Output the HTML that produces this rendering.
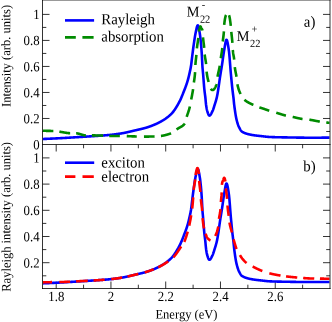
<!DOCTYPE html><html><head><meta charset="utf-8"><title>fig</title><style>html,body{margin:0;padding:0;background:#fff;overflow:hidden}svg{display:block;will-change:transform}text{font-family:"Liberation Serif",serif;fill:#000}</style></head><body>
<svg width="332" height="322" viewBox="0 0 332 322">
<rect width="332" height="322" fill="#fff"/>
<path d="M42.50 131.49h3.80M330.00 131.49h-3.80M42.50 275.80h3.80M330.00 275.80h-3.80M42.50 118.48h7.00M330.00 118.48h-7.00M42.50 262.70h7.00M330.00 262.70h-7.00M42.50 105.47h3.80M330.00 105.47h-3.80M42.50 249.60h3.80M330.00 249.60h-3.80M42.50 92.46h7.00M330.00 92.46h-7.00M42.50 236.50h7.00M330.00 236.50h-7.00M42.50 79.45h3.80M330.00 79.45h-3.80M42.50 223.40h3.80M330.00 223.40h-3.80M42.50 66.44h7.00M330.00 66.44h-7.00M42.50 210.30h7.00M330.00 210.30h-7.00M42.50 53.43h3.80M330.00 53.43h-3.80M42.50 197.20h3.80M330.00 197.20h-3.80M42.50 40.42h7.00M330.00 40.42h-7.00M42.50 184.10h7.00M330.00 184.10h-7.00M42.50 27.41h3.80M330.00 27.41h-3.80M42.50 171.00h3.80M330.00 171.00h-3.80M42.50 14.40h7.00M330.00 14.40h-7.00M42.50 157.90h7.00M330.00 157.90h-7.00M56.19 144.50v7.00M56.19 288.50v-7.00M83.57 144.50v3.80M83.57 288.50v-3.80M110.95 144.50v7.00M110.95 288.50v-7.00M138.33 144.50v3.80M138.33 288.50v-3.80M165.71 144.50v7.00M165.71 288.50v-7.00M193.10 144.50v3.80M193.10 288.50v-3.80M220.48 144.50v7.00M220.48 288.50v-7.00M247.86 144.50v3.80M247.86 288.50v-3.80M275.24 144.50v7.00M275.24 288.50v-7.00M302.62 144.50v3.80M302.62 288.50v-3.80" stroke="#000" stroke-width="0.8" fill="none"/>
<clipPath id="ca"><rect x="43" y="0" width="286.5" height="144.5"/></clipPath><clipPath id="cb"><rect x="43" y="144.5" width="286.5" height="144"/></clipPath>
<g fill="none" stroke-width="2.6" stroke-linejoin="round">
<path clip-path="url(#ca)" d="M42.50 139.00L42.70 138.99L42.90 138.98L43.10 138.98L43.30 138.97L43.50 138.96L43.70 138.95L43.90 138.94L44.10 138.94L44.30 138.93L44.50 138.92L44.70 138.91L44.90 138.90L45.10 138.90L45.30 138.89L45.50 138.88L45.70 138.87L45.90 138.86L46.10 138.85L46.30 138.85L46.50 138.84L46.70 138.83L46.90 138.82L47.10 138.81L47.30 138.80L47.50 138.79L47.70 138.79L47.90 138.78L48.10 138.77L48.30 138.76L48.50 138.75L48.70 138.74L48.90 138.73L49.10 138.72L49.30 138.72L49.50 138.71L49.70 138.70L49.90 138.69L50.10 138.68L50.30 138.67L50.50 138.66L50.70 138.65L50.90 138.64L51.10 138.63L51.30 138.63L51.50 138.62L51.70 138.61L51.90 138.60L52.10 138.59L52.30 138.58L52.50 138.57L52.70 138.56L52.90 138.55L53.10 138.54L53.30 138.53L53.50 138.52L53.70 138.51L53.90 138.50L54.10 138.49L54.30 138.48L54.50 138.47L54.70 138.47L54.90 138.46L55.10 138.45L55.30 138.44L55.50 138.43L55.70 138.42L55.90 138.41L56.10 138.40L56.30 138.39L56.50 138.38L56.70 138.37L56.90 138.36L57.10 138.35L57.30 138.34L57.50 138.33L57.70 138.32L57.90 138.31L58.10 138.30L58.30 138.29L58.50 138.28L58.70 138.27L58.90 138.26L59.10 138.25L59.30 138.24L59.50 138.23L59.70 138.22L59.90 138.21L60.10 138.19L60.30 138.18L60.50 138.17L60.70 138.16L60.90 138.15L61.10 138.14L61.30 138.13L61.50 138.12L61.70 138.11L61.90 138.10L62.10 138.09L62.30 138.08L62.50 138.07L62.70 138.06L62.90 138.04L63.10 138.03L63.30 138.02L63.50 138.01L63.70 138.00L63.90 137.99L64.10 137.98L64.30 137.97L64.50 137.95L64.70 137.94L64.90 137.93L65.10 137.92L65.30 137.91L65.50 137.90L65.70 137.88L65.90 137.87L66.10 137.86L66.30 137.85L66.50 137.84L66.70 137.83L66.90 137.81L67.10 137.80L67.30 137.79L67.50 137.78L67.70 137.77L67.90 137.75L68.10 137.74L68.30 137.73L68.50 137.72L68.70 137.71L68.90 137.69L69.10 137.68L69.30 137.67L69.50 137.66L69.70 137.65L69.90 137.63L70.10 137.62L70.30 137.61L70.50 137.60L70.70 137.58L70.90 137.57L71.10 137.56L71.30 137.55L71.50 137.53L71.70 137.52L71.90 137.51L72.10 137.50L72.30 137.48L72.50 137.47L72.70 137.46L72.90 137.45L73.10 137.43L73.30 137.42L73.50 137.41L73.70 137.40L73.90 137.38L74.10 137.37L74.30 137.36L74.50 137.35L74.70 137.33L74.90 137.32L75.10 137.31L75.30 137.30L75.50 137.28L75.70 137.27L75.90 137.26L76.10 137.25L76.30 137.23L76.50 137.22L76.70 137.21L76.90 137.19L77.10 137.18L77.30 137.17L77.50 137.16L77.70 137.14L77.90 137.13L78.10 137.12L78.30 137.11L78.50 137.09L78.70 137.08L78.90 137.07L79.10 137.06L79.30 137.04L79.50 137.03L79.70 137.02L79.90 137.01L80.10 136.99L80.30 136.98L80.50 136.97L80.70 136.96L80.90 136.94L81.10 136.93L81.30 136.92L81.50 136.91L81.70 136.89L81.90 136.88L82.10 136.87L82.30 136.86L82.50 136.84L82.70 136.83L82.90 136.82L83.10 136.81L83.30 136.79L83.50 136.78L83.70 136.77L83.90 136.76L84.10 136.75L84.30 136.73L84.50 136.72L84.70 136.71L84.90 136.70L85.10 136.68L85.30 136.67L85.50 136.66L85.70 136.65L85.90 136.63L86.10 136.62L86.30 136.61L86.50 136.60L86.70 136.58L86.90 136.57L87.10 136.56L87.30 136.55L87.50 136.53L87.70 136.52L87.90 136.51L88.10 136.50L88.30 136.48L88.50 136.47L88.70 136.46L88.90 136.45L89.10 136.43L89.30 136.42L89.50 136.41L89.70 136.39L89.90 136.38L90.10 136.37L90.30 136.36L90.50 136.34L90.70 136.33L90.90 136.32L91.10 136.30L91.30 136.29L91.50 136.28L91.70 136.27L91.90 136.25L92.10 136.24L92.30 136.23L92.50 136.21L92.70 136.20L92.90 136.19L93.10 136.17L93.30 136.16L93.50 136.15L93.70 136.14L93.90 136.12L94.10 136.11L94.30 136.10L94.50 136.08L94.70 136.07L94.90 136.06L95.10 136.04L95.30 136.03L95.50 136.01L95.70 136.00L95.90 135.99L96.10 135.97L96.30 135.96L96.50 135.95L96.70 135.93L96.90 135.92L97.10 135.91L97.30 135.89L97.50 135.88L97.70 135.86L97.90 135.85L98.10 135.84L98.30 135.82L98.50 135.81L98.70 135.79L98.90 135.78L99.10 135.76L99.30 135.75L99.50 135.74L99.70 135.72L99.90 135.71L100.10 135.69L100.30 135.68L100.50 135.66L100.70 135.65L100.90 135.63L101.10 135.62L101.30 135.61L101.50 135.59L101.70 135.58L101.90 135.56L102.10 135.55L102.30 135.53L102.50 135.52L102.70 135.50L102.90 135.49L103.10 135.48L103.30 135.46L103.50 135.45L103.70 135.43L103.90 135.42L104.10 135.40L104.30 135.39L104.50 135.37L104.70 135.36L104.90 135.34L105.10 135.33L105.30 135.31L105.50 135.29L105.70 135.28L105.90 135.26L106.10 135.25L106.30 135.23L106.50 135.21L106.70 135.20L106.90 135.18L107.10 135.16L107.30 135.15L107.50 135.13L107.70 135.11L107.90 135.10L108.10 135.08L108.30 135.06L108.50 135.04L108.70 135.02L108.90 135.01L109.10 134.99L109.30 134.97L109.50 134.95L109.70 134.93L109.90 134.91L110.10 134.89L110.30 134.87L110.50 134.85L110.70 134.83L110.90 134.81L111.10 134.79L111.30 134.77L111.50 134.74L111.70 134.72L111.90 134.70L112.10 134.68L112.30 134.66L112.50 134.63L112.70 134.61L112.90 134.59L113.10 134.56L113.30 134.54L113.50 134.52L113.70 134.49L113.90 134.47L114.10 134.44L114.30 134.42L114.50 134.39L114.70 134.37L114.90 134.34L115.10 134.32L115.30 134.29L115.50 134.27L115.70 134.24L115.90 134.21L116.10 134.19L116.30 134.16L116.50 134.13L116.70 134.11L116.90 134.08L117.10 134.05L117.30 134.02L117.50 133.99L117.70 133.97L117.90 133.94L118.10 133.91L118.30 133.88L118.50 133.85L118.70 133.82L118.90 133.79L119.10 133.76L119.30 133.73L119.50 133.70L119.70 133.67L119.90 133.64L120.10 133.61L120.30 133.57L120.50 133.54L120.70 133.51L120.90 133.48L121.10 133.45L121.30 133.42L121.50 133.38L121.70 133.35L121.90 133.32L122.10 133.28L122.30 133.25L122.50 133.21L122.70 133.18L122.90 133.14L123.10 133.11L123.30 133.07L123.50 133.03L123.70 133.00L123.90 132.96L124.10 132.92L124.30 132.88L124.50 132.84L124.70 132.80L124.90 132.76L125.10 132.72L125.30 132.67L125.50 132.63L125.70 132.59L125.90 132.55L126.10 132.50L126.30 132.46L126.50 132.41L126.70 132.37L126.90 132.33L127.10 132.28L127.30 132.24L127.50 132.19L127.70 132.14L127.90 132.10L128.10 132.05L128.30 132.01L128.50 131.96L128.70 131.91L128.90 131.86L129.10 131.82L129.30 131.77L129.50 131.72L129.70 131.67L129.90 131.63L130.10 131.58L130.30 131.53L130.50 131.48L130.70 131.43L130.90 131.39L131.10 131.34L131.30 131.29L131.50 131.24L131.70 131.19L131.90 131.15L132.10 131.10L132.30 131.05L132.50 131.00L132.70 130.95L132.90 130.91L133.10 130.86L133.30 130.81L133.50 130.76L133.70 130.72L133.90 130.67L134.10 130.62L134.30 130.58L134.50 130.53L134.70 130.48L134.90 130.44L135.10 130.39L135.30 130.35L135.50 130.30L135.70 130.26L135.90 130.21L136.10 130.16L136.30 130.12L136.50 130.07L136.70 130.03L136.90 129.98L137.10 129.94L137.30 129.89L137.50 129.85L137.70 129.80L137.90 129.76L138.10 129.71L138.30 129.67L138.50 129.62L138.70 129.58L138.90 129.53L139.10 129.49L139.30 129.44L139.50 129.39L139.70 129.35L139.90 129.30L140.10 129.25L140.30 129.21L140.50 129.16L140.70 129.11L140.90 129.07L141.10 129.02L141.30 128.97L141.50 128.92L141.70 128.87L141.90 128.82L142.10 128.77L142.30 128.72L142.50 128.67L142.70 128.62L142.90 128.57L143.10 128.52L143.30 128.47L143.50 128.42L143.70 128.36L143.90 128.31L144.10 128.26L144.30 128.20L144.50 128.15L144.70 128.09L144.90 128.04L145.10 127.98L145.30 127.92L145.50 127.87L145.70 127.81L145.90 127.75L146.10 127.69L146.30 127.63L146.50 127.57L146.70 127.51L146.90 127.45L147.10 127.38L147.30 127.32L147.50 127.26L147.70 127.19L147.90 127.13L148.10 127.06L148.30 127.00L148.50 126.93L148.70 126.87L148.90 126.80L149.10 126.73L149.30 126.66L149.50 126.59L149.70 126.52L149.90 126.45L150.10 126.38L150.30 126.31L150.50 126.24L150.70 126.17L150.90 126.09L151.10 126.02L151.30 125.94L151.50 125.87L151.70 125.79L151.90 125.72L152.10 125.64L152.30 125.56L152.50 125.48L152.70 125.40L152.90 125.32L153.10 125.24L153.30 125.16L153.50 125.08L153.70 125.00L153.90 124.91L154.10 124.83L154.30 124.75L154.50 124.66L154.70 124.57L154.90 124.49L155.10 124.40L155.30 124.31L155.50 124.22L155.70 124.13L155.90 124.04L156.10 123.95L156.30 123.86L156.50 123.77L156.70 123.67L156.90 123.58L157.10 123.49L157.30 123.39L157.50 123.29L157.70 123.20L157.90 123.10L158.10 123.00L158.30 122.90L158.50 122.80L158.70 122.70L158.90 122.60L159.10 122.49L159.30 122.39L159.50 122.29L159.70 122.18L159.90 122.08L160.10 121.97L160.30 121.86L160.50 121.76L160.70 121.65L160.90 121.54L161.10 121.43L161.30 121.32L161.50 121.20L161.70 121.09L161.90 120.97L162.10 120.86L162.30 120.74L162.50 120.62L162.70 120.50L162.90 120.38L163.10 120.26L163.30 120.14L163.50 120.02L163.70 119.89L163.90 119.76L164.10 119.64L164.30 119.51L164.50 119.37L164.70 119.24L164.90 119.11L165.10 118.97L165.30 118.84L165.50 118.70L165.70 118.56L165.90 118.42L166.10 118.27L166.30 118.13L166.50 117.98L166.70 117.83L166.90 117.68L167.10 117.53L167.30 117.38L167.50 117.23L167.70 117.07L167.90 116.91L168.10 116.75L168.30 116.59L168.50 116.42L168.70 116.26L168.90 116.09L169.10 115.92L169.30 115.74L169.50 115.57L169.70 115.39L169.90 115.21L170.10 115.03L170.30 114.85L170.50 114.67L170.70 114.48L170.90 114.29L171.10 114.10L171.30 113.90L171.50 113.70L171.70 113.49L171.90 113.28L172.10 113.06L172.30 112.84L172.50 112.61L172.70 112.37L172.90 112.13L173.10 111.88L173.30 111.62L173.50 111.36L173.70 111.10L173.90 110.83L174.10 110.56L174.30 110.28L174.50 109.99L174.70 109.70L174.90 109.41L175.10 109.11L175.30 108.81L175.50 108.50L175.70 108.19L175.90 107.87L176.10 107.55L176.30 107.23L176.50 106.90L176.70 106.57L176.90 106.24L177.10 105.90L177.30 105.56L177.50 105.22L177.70 104.87L177.90 104.52L178.10 104.16L178.30 103.81L178.50 103.45L178.70 103.09L178.90 102.72L179.10 102.35L179.30 101.99L179.50 101.61L179.70 101.23L179.90 100.83L180.10 100.43L180.30 100.01L180.50 99.58L180.70 99.14L180.90 98.69L181.10 98.24L181.30 97.77L181.50 97.30L181.70 96.82L181.90 96.34L182.10 95.85L182.30 95.36L182.50 94.86L182.70 94.36L182.90 93.85L183.10 93.34L183.30 92.83L183.50 92.32L183.70 91.81L183.90 91.30L184.10 90.79L184.30 90.28L184.50 89.77L184.70 89.25L184.90 88.73L185.10 88.21L185.30 87.69L185.50 87.15L185.70 86.61L185.90 86.06L186.10 85.50L186.30 84.93L186.50 84.35L186.70 83.76L186.90 83.15L187.10 82.53L187.30 81.89L187.50 81.23L187.70 80.56L187.90 79.85L188.10 79.12L188.30 78.36L188.50 77.57L188.70 76.77L188.90 75.94L189.10 75.09L189.30 74.22L189.50 73.34L189.70 72.45L189.90 71.55L190.10 70.65L190.30 69.73L190.50 68.76L190.70 67.73L190.90 66.60L191.10 65.35L191.30 63.87L191.50 62.23L191.70 60.51L191.90 58.82L192.10 57.20L192.30 55.57L192.50 53.95L192.70 52.34L192.90 50.77L193.10 49.24L193.30 47.75L193.50 46.29L193.70 44.86L193.90 43.47L194.10 42.13L194.30 40.78L194.50 39.44L194.70 38.12L194.90 36.84L195.10 35.63L195.30 34.50L195.50 33.47L195.70 32.54L195.90 31.60L196.10 30.64L196.30 29.69L196.50 28.77L196.70 27.91L196.90 27.13L197.10 26.46L197.30 25.92L197.50 25.53L197.70 25.33L197.90 25.33L198.10 25.59L198.30 26.08L198.50 26.76L198.70 27.60L198.90 28.56L199.10 29.62L199.30 30.73L199.50 31.87L199.70 33.00L199.90 34.22L200.10 35.65L200.30 37.24L200.50 38.99L200.70 40.85L200.90 42.80L201.10 44.94L201.30 47.35L201.50 50.00L201.70 52.95L201.90 56.25L202.10 59.97L202.30 64.25L202.50 67.40L202.70 69.75L202.90 71.82L203.10 74.00L203.30 76.44L203.50 79.01L203.70 81.61L203.90 84.17L204.10 86.60L204.30 88.81L204.50 90.71L204.70 92.34L204.90 93.84L205.10 95.34L205.30 97.00L205.50 98.99L205.70 101.18L205.90 103.29L206.10 105.00L206.30 106.37L206.50 107.63L206.70 108.75L206.90 109.74L207.10 110.56L207.30 111.22L207.50 111.86L207.70 112.48L207.90 113.07L208.10 113.62L208.30 114.13L208.50 114.58L208.70 114.96L208.90 115.26L209.10 115.48L209.30 115.59L209.50 115.59L209.70 115.54L209.90 115.42L210.10 115.26L210.30 115.06L210.50 114.82L210.70 114.53L210.90 114.22L211.10 113.88L211.30 113.52L211.50 113.14L211.70 112.74L211.90 112.34L212.10 111.92L212.30 111.51L212.50 111.10L212.70 110.69L212.90 110.23L213.10 109.71L213.30 109.15L213.50 108.55L213.70 107.93L213.90 107.28L214.10 106.63L214.30 105.97L214.50 105.32L214.70 104.68L214.90 104.05L215.10 103.43L215.30 102.80L215.50 102.17L215.70 101.52L215.90 100.85L216.10 100.15L216.30 99.43L216.50 98.66L216.70 97.86L216.90 97.00L217.10 96.07L217.30 95.06L217.50 93.98L217.70 92.82L217.90 91.61L218.10 90.34L218.30 89.03L218.50 87.68L218.70 86.31L218.90 84.91L219.10 83.51L219.30 82.09L219.50 80.69L219.70 79.29L219.90 77.92L220.10 76.57L220.30 75.27L220.50 74.00L220.70 72.77L220.90 71.57L221.10 70.38L221.30 69.19L221.50 67.99L221.70 66.77L221.90 65.53L222.10 64.25L222.30 62.91L222.50 61.51L222.70 60.07L222.90 58.62L223.10 57.17L223.30 55.74L223.50 54.34L223.70 53.00L223.90 51.73L224.10 50.55L224.30 49.45L224.50 48.31L224.70 47.12L224.90 45.92L225.10 44.75L225.30 43.62L225.50 42.59L225.70 41.67L225.90 40.90L226.10 40.31L226.30 39.93L226.50 39.80L226.70 39.92L226.90 40.25L227.10 40.78L227.30 41.48L227.50 42.33L227.70 43.31L227.90 44.39L228.10 45.56L228.30 46.79L228.50 48.07L228.70 49.36L228.90 50.69L229.10 52.36L229.30 54.34L229.50 56.57L229.70 58.99L229.90 61.54L230.10 64.16L230.30 66.77L230.50 69.33L230.70 71.76L230.90 74.00L231.10 76.12L231.30 78.23L231.50 80.32L231.70 82.36L231.90 84.37L232.10 86.31L232.30 88.20L232.50 90.00L232.70 91.68L232.90 93.23L233.10 94.75L233.30 96.31L233.50 98.00L233.70 99.95L233.90 102.06L234.10 104.04L234.30 105.69L234.50 107.23L234.70 108.73L234.90 110.17L235.10 111.55L235.30 112.88L235.50 114.14L235.70 115.34L235.90 116.46L236.10 117.51L236.30 118.49L236.50 119.38L236.70 120.20L236.90 120.98L237.10 121.72L237.30 122.43L237.50 123.10L237.70 123.74L237.90 124.34L238.10 124.92L238.30 125.46L238.50 125.97L238.70 126.44L238.90 126.89L239.10 127.30L239.30 127.70L239.50 128.08L239.70 128.46L239.90 128.83L240.10 129.19L240.30 129.53L240.50 129.86L240.70 130.17L240.90 130.46L241.10 130.73L241.30 130.98L241.50 131.20L241.70 131.40L241.90 131.56L242.10 131.70L242.30 131.82L242.50 131.94L242.70 132.05L242.90 132.16L243.10 132.27L243.30 132.37L243.50 132.47L243.70 132.57L243.90 132.66L244.10 132.76L244.30 132.85L244.50 132.93L244.70 133.02L244.90 133.10L245.10 133.18L245.30 133.26L245.50 133.33L245.70 133.40L245.90 133.47L246.10 133.54L246.30 133.61L246.50 133.67L246.70 133.74L246.90 133.80L247.10 133.86L247.30 133.91L247.50 133.97L247.70 134.02L247.90 134.08L248.10 134.13L248.30 134.18L248.50 134.22L248.70 134.27L248.90 134.32L249.10 134.36L249.30 134.41L249.50 134.45L249.70 134.49L249.90 134.53L250.10 134.58L250.30 134.62L250.50 134.65L250.70 134.69L250.90 134.73L251.10 134.77L251.30 134.81L251.50 134.84L251.70 134.88L251.90 134.92L252.10 134.95L252.30 134.99L252.50 135.02L252.70 135.06L252.90 135.09L253.10 135.12L253.30 135.16L253.50 135.19L253.70 135.22L253.90 135.25L254.10 135.28L254.30 135.31L254.50 135.34L254.70 135.36L254.90 135.39L255.10 135.42L255.30 135.44L255.50 135.47L255.70 135.50L255.90 135.52L256.10 135.55L256.30 135.57L256.50 135.60L256.70 135.62L256.90 135.64L257.10 135.67L257.30 135.69L257.50 135.71L257.70 135.73L257.90 135.76L258.10 135.78L258.30 135.80L258.50 135.82L258.70 135.84L258.90 135.87L259.10 135.89L259.30 135.91L259.50 135.93L259.70 135.95L259.90 135.97L260.10 135.99L260.30 136.02L260.50 136.04L260.70 136.06L260.90 136.08L261.10 136.10L261.30 136.12L261.50 136.14L261.70 136.17L261.90 136.19L262.10 136.21L262.30 136.23L262.50 136.26L262.70 136.28L262.90 136.30L263.10 136.33L263.30 136.35L263.50 136.37L263.70 136.40L263.90 136.42L264.10 136.45L264.30 136.47L264.50 136.49L264.70 136.52L264.90 136.54L265.10 136.57L265.30 136.59L265.50 136.61L265.70 136.63L265.90 136.66L266.10 136.68L266.30 136.70L266.50 136.72L266.70 136.74L266.90 136.76L267.10 136.78L267.30 136.80L267.50 136.82L267.70 136.84L267.90 136.86L268.10 136.88L268.30 136.89L268.50 136.91L268.70 136.92L268.90 136.94L269.10 136.95L269.30 136.96L269.50 136.98L269.70 136.99L269.90 137.00L270.10 137.00L270.30 137.01L270.50 137.02L270.70 137.03L270.90 137.04L271.10 137.05L271.30 137.05L271.50 137.06L271.70 137.07L271.90 137.08L272.10 137.08L272.30 137.09L272.50 137.10L272.70 137.10L272.90 137.11L273.10 137.12L273.30 137.12L273.50 137.13L273.70 137.14L273.90 137.14L274.10 137.15L274.30 137.16L274.50 137.16L274.70 137.17L274.90 137.17L275.10 137.18L275.30 137.18L275.50 137.19L275.70 137.20L275.90 137.20L276.10 137.21L276.30 137.21L276.50 137.22L276.70 137.22L276.90 137.23L277.10 137.23L277.30 137.24L277.50 137.24L277.70 137.25L277.90 137.25L278.10 137.26L278.30 137.26L278.50 137.26L278.70 137.27L278.90 137.27L279.10 137.28L279.30 137.28L279.50 137.29L279.70 137.29L279.90 137.29L280.10 137.30L280.30 137.30L280.50 137.30L280.70 137.31L280.90 137.31L281.10 137.32L281.30 137.32L281.50 137.32L281.70 137.33L281.90 137.33L282.10 137.33L282.30 137.34L282.50 137.34L282.70 137.35L282.90 137.35L283.10 137.35L283.30 137.36L283.50 137.36L283.70 137.36L283.90 137.37L284.10 137.37L284.30 137.37L284.50 137.38L284.70 137.38L284.90 137.38L285.10 137.39L285.30 137.39L285.50 137.39L285.70 137.40L285.90 137.40L286.10 137.40L286.30 137.41L286.50 137.41L286.70 137.41L286.90 137.42L287.10 137.42L287.30 137.42L287.50 137.43L287.70 137.43L287.90 137.43L288.10 137.44L288.30 137.44L288.50 137.45L288.70 137.45L288.90 137.45L289.10 137.46L289.30 137.46L289.50 137.46L289.70 137.47L289.90 137.47L290.10 137.47L290.30 137.48L290.50 137.48L290.70 137.48L290.90 137.49L291.10 137.49L291.30 137.49L291.50 137.50L291.70 137.50L291.90 137.50L292.10 137.51L292.30 137.51L292.50 137.51L292.70 137.52L292.90 137.52L293.10 137.52L293.30 137.53L293.50 137.53L293.70 137.53L293.90 137.54L294.10 137.54L294.30 137.54L294.50 137.55L294.70 137.55L294.90 137.55L295.10 137.56L295.30 137.56L295.50 137.56L295.70 137.57L295.90 137.57L296.10 137.57L296.30 137.58L296.50 137.58L296.70 137.58L296.90 137.59L297.10 137.59L297.30 137.59L297.50 137.59L297.70 137.60L297.90 137.60L298.10 137.60L298.30 137.61L298.50 137.61L298.70 137.61L298.90 137.61L299.10 137.62L299.30 137.62L299.50 137.62L299.70 137.63L299.90 137.63L300.10 137.63L300.30 137.63L300.50 137.64L300.70 137.64L300.90 137.64L301.10 137.64L301.30 137.65L301.50 137.65L301.70 137.65L301.90 137.65L302.10 137.65L302.30 137.66L302.50 137.66L302.70 137.66L302.90 137.66L303.10 137.66L303.30 137.67L303.50 137.67L303.70 137.67L303.90 137.67L304.10 137.67L304.30 137.68L304.50 137.68L304.70 137.68L304.90 137.68L305.10 137.68L305.30 137.68L305.50 137.68L305.70 137.69L305.90 137.69L306.10 137.69L306.30 137.69L306.50 137.69L306.70 137.69L306.90 137.69L307.10 137.69L307.30 137.69L307.50 137.69L307.70 137.70L307.90 137.70L308.10 137.70L308.30 137.70L308.50 137.70L308.70 137.70L308.90 137.70L309.10 137.70L309.30 137.70L309.50 137.70L309.70 137.70L309.90 137.70L310.10 137.70L310.30 137.70L310.50 137.70L310.70 137.70L310.90 137.70L311.10 137.70L311.30 137.70L311.50 137.70L311.70 137.70L311.90 137.70L312.10 137.70L312.30 137.70L312.50 137.70L312.70 137.70L312.90 137.70L313.10 137.70L313.30 137.70L313.50 137.70L313.70 137.70L313.90 137.70L314.10 137.70L314.30 137.70L314.50 137.70L314.70 137.70L314.90 137.70L315.10 137.70L315.30 137.70L315.50 137.70L315.70 137.70L315.90 137.69L316.10 137.69L316.30 137.69L316.50 137.69L316.70 137.69L316.90 137.69L317.10 137.69L317.30 137.69L317.50 137.69L317.70 137.69L317.90 137.69L318.10 137.69L318.30 137.69L318.50 137.69L318.70 137.69L318.90 137.69L319.10 137.69L319.30 137.69L319.50 137.68L319.70 137.68L319.90 137.68L320.10 137.68L320.30 137.68L320.50 137.68L320.70 137.68L320.90 137.68L321.10 137.68L321.30 137.68L321.50 137.68L321.70 137.67L321.90 137.67L322.10 137.67L322.30 137.67L322.50 137.67L322.70 137.67L322.90 137.67L323.10 137.67L323.30 137.66L323.50 137.66L323.70 137.66L323.90 137.66L324.10 137.66L324.30 137.66L324.50 137.66L324.70 137.65L324.90 137.65L325.10 137.65L325.30 137.65L325.50 137.65L325.70 137.65L325.90 137.64L326.10 137.64L326.30 137.64L326.50 137.64L326.70 137.64L326.90 137.64L327.10 137.63L327.30 137.63L327.50 137.63L327.70 137.63L327.90 137.62L328.10 137.62L328.30 137.62L328.50 137.62L328.70 137.62L328.90 137.61L329.10 137.61L329.30 137.61L329.50 137.61L329.70 137.60L329.90 137.60" stroke="#0000ff"/>
<path clip-path="url(#ca)" d="M42.50 130.80L42.65 130.80L42.80 130.80L42.95 130.80L43.10 130.80L43.25 130.80L43.40 130.80L43.55 130.80L43.70 130.80L43.85 130.80L44.00 130.80L44.15 130.81L44.30 130.81L44.45 130.81L44.60 130.81L44.75 130.81L44.90 130.81L45.05 130.81L45.20 130.82L45.35 130.82L45.50 130.82L45.65 130.82L45.80 130.82L45.95 130.82L46.10 130.83L46.25 130.83L46.40 130.83L46.55 130.83L46.70 130.84L46.85 130.84L47.00 130.84L47.15 130.84L47.30 130.85L47.45 130.85L47.60 130.85L47.75 130.86L47.90 130.86L48.05 130.86L48.20 130.86L48.35 130.87L48.50 130.87L48.65 130.87L48.80 130.88L48.95 130.88L49.10 130.88L49.25 130.89L49.40 130.89L49.55 130.90L49.70 130.90L49.85 130.90L50.00 130.91L50.15 130.91L50.30 130.92L50.45 130.92L50.60 130.92L50.75 130.93L50.90 130.93L51.05 130.94L51.20 130.94L51.35 130.95L51.50 130.95L51.65 130.96L51.80 130.96L51.95 130.97L52.10 130.97L52.25 130.97L52.40 130.98L52.55 130.98L52.70 130.99L52.85 130.99L53.00 131.00L53.15 131.01L53.30 131.01L53.35 131.01M59.35 131.72L59.50 131.74L59.65 131.76L59.80 131.77L59.95 131.79L60.10 131.81L60.25 131.83L60.40 131.85L60.55 131.87L60.70 131.89L60.85 131.92L61.00 131.94L61.15 131.96L61.30 131.98L61.45 132.01L61.60 132.03L61.75 132.06L61.90 132.08L62.05 132.11L62.20 132.13L62.35 132.16L62.50 132.18L62.65 132.21L62.80 132.23L62.95 132.26L63.10 132.29L63.25 132.31L63.40 132.34L63.55 132.37L63.70 132.39L63.85 132.42L64.00 132.45L64.15 132.47L64.30 132.50L64.45 132.53L64.60 132.55L64.75 132.58L64.90 132.60L65.05 132.63L65.20 132.66L65.35 132.68L65.50 132.71L65.65 132.73L65.80 132.76L65.95 132.78L66.10 132.80L66.25 132.83L66.40 132.85L66.55 132.87L66.70 132.89L66.85 132.91L67.00 132.94L67.15 132.96L67.30 132.98L67.45 132.99L67.60 133.01L67.75 133.03L67.90 133.05L68.05 133.06L68.20 133.08L68.35 133.09L68.50 133.11L68.65 133.12L68.80 133.13L68.95 133.15L69.10 133.16L69.25 133.17L69.40 133.17L69.55 133.18L69.70 133.19L69.85 133.20L70.00 133.20L70.15 133.20M76.15 133.31L76.30 133.31L76.45 133.32L76.60 133.34L76.75 133.35L76.90 133.37L77.05 133.39L77.20 133.41L77.35 133.43L77.50 133.46L77.65 133.49L77.80 133.51L77.95 133.54L78.10 133.58L78.25 133.61L78.40 133.64L78.55 133.68L78.70 133.72L78.85 133.76L79.00 133.80L79.15 133.84L79.30 133.88L79.45 133.92L79.60 133.96L79.75 134.01L79.90 134.05L80.05 134.10L80.20 134.14L80.35 134.19L80.50 134.23L80.65 134.28L80.80 134.32L80.95 134.37L81.10 134.42L81.25 134.46L81.40 134.51L81.55 134.55L81.70 134.60L81.85 134.64L82.00 134.69L82.15 134.73L82.30 134.78L82.45 134.82L82.60 134.86L82.75 134.90L82.90 134.94L83.05 134.98L83.20 135.01L83.35 135.05L83.50 135.09L83.65 135.12L83.80 135.15L83.95 135.18L84.10 135.21L84.25 135.24L84.40 135.26L84.55 135.29L84.70 135.31L84.85 135.33L85.00 135.34L85.15 135.36L85.30 135.37L85.45 135.38L85.60 135.39L85.75 135.40L85.85 135.40M91.85 135.40L92.00 135.40L92.15 135.40L92.30 135.40L92.45 135.40L92.60 135.40L92.75 135.40L92.90 135.40L93.05 135.40L93.20 135.40L93.35 135.40L93.50 135.41L93.65 135.41L93.80 135.41L93.95 135.41L94.10 135.41L94.25 135.41L94.40 135.41L94.55 135.41L94.70 135.42L94.85 135.42L95.00 135.42L95.15 135.42L95.30 135.42L95.45 135.43L95.60 135.43L95.75 135.43L95.90 135.43L96.05 135.43L96.20 135.44L96.35 135.44L96.50 135.44L96.65 135.44L96.80 135.45L96.95 135.45L97.10 135.45L97.25 135.46L97.40 135.46L97.55 135.46L97.70 135.46L97.85 135.47L98.00 135.47L98.15 135.47L98.30 135.48L98.45 135.48L98.60 135.48L98.75 135.49L98.90 135.49L99.05 135.49L99.20 135.50L99.35 135.50L99.50 135.51L99.65 135.51L99.80 135.51L99.95 135.52L100.10 135.52L100.25 135.52L100.40 135.53L100.55 135.53L100.70 135.54L100.85 135.54L101.00 135.54L101.15 135.55L101.30 135.55L101.45 135.56L101.60 135.56L101.75 135.56L101.90 135.57L102.05 135.57L102.20 135.58L102.35 135.58L102.50 135.59L102.65 135.59L102.80 135.59L102.95 135.60L103.10 135.60L103.15 135.60M109.25 135.99L109.40 135.99L109.55 136.00L109.70 136.00L109.85 136.00L110.00 136.00L110.15 136.00L110.30 136.00L110.45 136.00L110.60 136.00L110.75 136.00L110.90 136.00L111.05 136.00L111.20 136.00L111.35 136.00L111.50 136.00L111.65 136.00L111.80 136.00L111.95 136.00L112.10 136.00L112.25 136.00L112.40 136.00L112.55 136.00L112.70 136.00L112.85 136.00L113.00 136.00L113.15 136.00L113.30 136.00L113.45 136.00L113.60 136.00L113.75 136.00L113.90 136.00L114.05 136.00L114.20 136.00L114.35 136.00L114.50 136.00L114.65 136.00L114.80 136.00L114.95 136.00L115.10 136.00L115.25 136.00L115.40 136.00L115.55 136.00L115.70 136.00L115.85 136.00L116.00 136.00L116.15 136.00L116.30 136.00L116.45 136.00L116.60 136.00L116.75 136.00L116.90 136.00L117.05 136.00L117.20 136.00L117.35 136.00L117.50 136.00L117.65 136.00L117.80 136.00L117.95 136.00L118.10 136.00L118.25 136.00L118.40 136.00L118.55 136.00L118.70 136.00L118.85 136.00L119.00 136.00L119.15 136.00L119.30 136.00L119.45 136.00L119.60 136.00L119.75 136.00L119.85 136.00M126.75 136.11L126.90 136.12L127.05 136.13L127.20 136.13L127.35 136.14L127.50 136.15L127.65 136.15L127.80 136.16L127.95 136.17L128.10 136.17L128.25 136.18L128.40 136.19L128.55 136.19L128.70 136.20L128.85 136.21L129.00 136.21L129.15 136.22L129.30 136.23L129.45 136.23L129.60 136.24L129.75 136.25L129.90 136.25L130.05 136.26L130.20 136.27L130.35 136.27L130.50 136.28L130.65 136.29L130.80 136.29L130.95 136.30L131.10 136.30L131.25 136.31L131.40 136.32L131.55 136.32L131.70 136.33L131.85 136.33L132.00 136.34L132.15 136.35L132.30 136.35L132.45 136.36L132.60 136.36L132.75 136.37L132.90 136.37L133.05 136.38L133.20 136.38L133.35 136.38L133.50 136.39L133.65 136.39L133.80 136.40L133.95 136.40L134.10 136.40L134.25 136.41L134.40 136.41L134.55 136.41L134.70 136.42L134.85 136.42L135.00 136.42L135.15 136.43L135.30 136.43L135.45 136.43L135.60 136.44L135.75 136.44L135.90 136.44L136.05 136.45L136.20 136.45L136.35 136.45L136.50 136.46L136.65 136.46L136.75 136.46M143.95 136.59L144.10 136.59L144.25 136.59L144.40 136.59L144.55 136.59L144.70 136.59L144.85 136.60L145.00 136.60L145.15 136.60L145.30 136.60L145.45 136.60L145.60 136.60L145.75 136.60L145.90 136.60L146.05 136.60L146.20 136.60L146.35 136.60L146.50 136.60L146.65 136.60L146.80 136.60L146.95 136.60L147.10 136.60L147.25 136.60L147.40 136.60L147.55 136.60L147.70 136.59L147.85 136.59L148.00 136.59L148.15 136.59L148.30 136.59L148.45 136.59L148.60 136.58L148.75 136.58L148.90 136.58L149.05 136.58L149.20 136.57L149.35 136.57L149.50 136.57L149.65 136.57L149.80 136.56L149.95 136.56L150.10 136.56L150.25 136.55L150.40 136.55L150.55 136.54L150.70 136.54L150.85 136.54L151.00 136.53L151.15 136.53L151.30 136.52L151.45 136.52L151.60 136.52L151.75 136.51L151.90 136.51L152.05 136.50L152.20 136.50L152.35 136.49L152.50 136.49L152.65 136.48L152.80 136.47L152.95 136.47L153.10 136.46L153.25 136.46L153.40 136.45L153.55 136.45L153.70 136.44L153.85 136.43L154.00 136.43L154.15 136.42L154.30 136.41L154.45 136.41L154.55 136.40M160.95 135.96L161.10 135.94L161.25 135.92L161.40 135.90L161.55 135.87L161.70 135.85L161.85 135.83L162.00 135.80L162.15 135.78L162.30 135.75L162.45 135.72L162.60 135.70L162.75 135.67L162.90 135.64L163.05 135.61L163.20 135.58L163.35 135.55L163.50 135.52L163.65 135.49L163.80 135.46L163.95 135.43L164.10 135.39L164.25 135.36L164.40 135.33L164.55 135.29L164.70 135.26L164.85 135.22L165.00 135.18L165.15 135.15L165.30 135.11L165.45 135.07L165.60 135.03L165.75 134.99L165.90 134.96L166.05 134.92L166.20 134.88L166.35 134.83L166.50 134.79L166.65 134.75L166.80 134.71L166.95 134.67L167.10 134.62L167.25 134.58L167.40 134.54L167.55 134.49L167.70 134.45L167.85 134.40L168.00 134.36L168.15 134.31L168.30 134.26L168.45 134.22L168.60 134.17L168.75 134.12L168.90 134.07L169.05 134.02L169.20 133.97L169.35 133.92L169.50 133.88L169.65 133.83L169.80 133.77L169.95 133.72L170.10 133.67L170.25 133.62L170.40 133.57L170.55 133.52L170.70 133.46L170.85 133.41L171.00 133.35L171.05 133.33M176.55 129.60L176.70 129.48L176.85 129.37L177.00 129.26L177.15 129.14L177.30 129.03L177.45 128.92L177.60 128.81L177.75 128.71L177.90 128.60L178.05 128.50L178.20 128.40L178.35 128.30L178.50 128.21L178.65 128.11L178.80 128.03L178.95 127.94L179.10 127.85L179.25 127.77L179.40 127.69L179.55 127.61L179.70 127.53L179.85 127.45L180.00 127.37L180.15 127.29L180.30 127.21L180.45 127.13L180.60 127.05L180.75 126.97L180.90 126.89L181.05 126.81L181.20 126.72L181.35 126.63L181.50 126.54L181.65 126.45L181.80 126.36L181.95 126.26L182.10 126.16L182.25 126.05L182.40 125.94L182.55 125.83L182.70 125.71L182.85 125.59L183.00 125.46L183.15 125.33L183.30 125.19L183.45 125.05L183.60 124.90L183.75 124.74L183.90 124.58L184.05 124.41L184.20 124.24L184.35 124.06L184.50 123.87L184.65 123.67L184.75 123.53M186.70 116.90L186.85 116.41L187.00 115.94L187.15 115.47L187.30 115.02L187.45 114.57L187.60 114.12L187.75 113.68L187.90 113.24L188.05 112.80L188.20 112.36L188.35 111.91L188.50 111.45L188.65 110.99L188.80 110.51L188.95 110.02L189.10 109.52L189.25 109.00L189.40 108.46L189.55 107.90L189.70 107.32L189.85 106.71L189.90 106.50M191.20 99.50L191.35 98.70L191.50 97.92L191.65 97.15L191.80 96.40L191.95 95.64L192.10 94.88L192.25 94.10L192.40 93.30L192.55 92.48L192.70 91.62L192.85 90.71L193.00 89.76L193.10 89.10M193.90 82.50L194.05 81.32L194.20 80.26L194.35 79.24L194.50 78.18L194.65 77.03L194.80 75.69L194.95 74.11L195.10 72.20M195.40 65.00L195.55 62.93L195.70 61.25L195.85 59.84L196.00 58.56L196.15 57.29L196.30 55.88L196.40 54.80M196.90 48.40L197.05 47.03L197.20 45.83L197.35 44.77L197.50 43.78L197.65 42.83L197.80 41.87L197.95 40.84L198.10 39.69L198.25 38.38L198.30 37.90M198.80 31.50L198.95 30.72L199.10 30.11L199.25 29.62L199.40 29.18L199.55 28.75L199.70 28.27L199.85 27.72L200.00 27.19L200.15 26.74L200.30 26.46L200.45 26.41L200.60 26.53L200.75 26.75L200.90 27.06L201.05 27.41L201.20 27.77L201.35 28.10L201.50 28.38L201.65 28.62L201.80 28.83L201.95 29.07L202.10 29.34L202.25 29.69L202.40 30.13L202.50 30.50M203.00 37.30L203.15 38.83L203.30 40.18L203.45 41.40L203.60 42.56L203.75 43.72L203.90 44.94L204.05 46.28L204.20 47.80M204.70 54.50L204.85 55.82L205.00 56.92L205.15 57.87L205.30 58.73L205.45 59.56L205.60 60.41L205.75 61.34L205.90 62.43L206.05 63.71L206.10 64.20M206.60 71.60L206.75 72.82L206.90 73.93L207.05 74.94L207.20 75.86L207.35 76.70L207.50 77.47L207.65 78.19L207.80 78.85L207.95 79.48L208.10 80.08L208.25 80.66L208.40 81.23L208.55 81.81L208.60 82.00M210.80 88.80L210.95 89.00L211.10 89.19L211.25 89.37L211.40 89.52L211.55 89.66L211.70 89.77L211.85 89.85L212.00 89.90L212.15 89.93L212.30 89.95L212.45 89.97L212.60 89.98L212.75 89.99L212.90 90.00L213.05 90.00L213.20 89.96L213.35 89.87L213.50 89.76L213.65 89.61L213.80 89.45L213.95 89.28L214.10 89.11L214.25 88.94L214.40 88.76L214.55 88.57L214.70 88.35L214.85 88.11L215.00 87.86L215.15 87.59L215.30 87.30L215.45 87.00L215.60 86.68L215.75 86.33L215.90 85.96L216.05 85.55L216.20 85.09L216.35 84.57L216.50 84.00M217.50 76.80L217.65 75.94L217.80 75.14L217.95 74.39L218.10 73.68L218.25 73.00L218.40 72.35L218.55 71.71L218.70 71.07L218.85 70.43L219.00 69.77L219.15 69.10L219.30 68.39L219.45 67.65L219.60 66.85L219.75 66.00L219.80 65.70M220.80 58.20L220.95 57.17L221.10 56.22L221.25 55.31L221.40 54.42L221.55 53.52L221.70 52.59L221.85 51.60L222.00 50.53L222.15 49.33L222.30 48.00M222.80 41.50L222.95 40.00L223.10 38.74L223.25 37.60L223.40 36.48L223.55 35.26L223.70 33.82L223.85 32.07L223.90 31.40M224.20 24.90L224.35 23.48L224.50 22.20L224.65 21.03L224.80 19.97L224.95 19.03L225.10 18.20L225.25 17.47L225.40 16.83L225.55 16.29L225.70 15.83L225.85 15.46L226.00 15.16L226.10 15.00M229.00 15.30L229.15 15.62L229.30 16.08L229.45 16.66L229.60 17.35L229.75 18.15L229.90 19.04L230.05 20.01L230.20 21.06L230.35 22.17L230.50 23.34L230.65 24.55L230.80 25.80M231.30 31.80L231.45 33.35L231.60 34.76L231.75 36.09L231.90 37.41L232.05 38.82L232.20 40.37L232.35 42.14L232.40 42.80M232.80 50.00L232.95 51.48L233.10 52.70L233.25 53.72L233.40 54.60L233.55 55.41L233.70 56.22L233.85 57.09L234.00 58.08L234.15 59.25L234.20 59.70M234.80 67.10L234.95 68.26L235.10 69.28L235.25 70.19L235.40 71.01L235.55 71.76L235.70 72.48L235.85 73.19L236.00 73.92L236.15 74.69L236.30 75.53L236.45 76.46L236.50 76.80M237.40 84.30L237.55 85.01L237.70 85.69L237.85 86.33L238.00 86.94L238.15 87.52L238.30 88.07L238.45 88.59L238.60 89.08L238.75 89.55L238.90 90.00L239.05 90.43L239.20 90.83L239.35 91.22L239.50 91.60L239.65 91.96L239.80 92.30L239.95 92.64L240.10 92.96L240.25 93.28L240.40 93.59L240.55 93.90L240.60 94.00M244.45 99.74L244.60 99.88L244.75 100.01L244.90 100.13L245.05 100.26L245.20 100.38L245.35 100.50L245.50 100.62L245.65 100.73L245.80 100.84L245.95 100.96L246.10 101.06L246.25 101.17L246.40 101.28L246.55 101.38L246.70 101.48L246.85 101.58L247.00 101.68L247.15 101.77L247.30 101.87L247.45 101.96L247.60 102.05L247.75 102.14L247.90 102.23L248.05 102.32L248.20 102.40L248.35 102.49L248.50 102.57L248.65 102.65L248.80 102.73L248.95 102.81L249.10 102.89L249.25 102.97L249.40 103.05L249.55 103.12L249.70 103.20L249.85 103.27L250.00 103.34L250.15 103.42L250.30 103.49L250.45 103.56L250.60 103.63L250.75 103.71L250.90 103.78L251.05 103.85L251.20 103.92L251.35 103.99L251.50 104.06L251.65 104.13L251.80 104.20L251.95 104.27L252.10 104.33L252.25 104.40L252.40 104.47L252.55 104.54L252.70 104.61L252.85 104.69L253.00 104.76L253.15 104.83L253.30 104.90L253.35 104.92M259.35 107.42L259.50 107.47L259.65 107.51L259.80 107.56L259.95 107.61L260.10 107.65L260.25 107.69L260.40 107.74L260.55 107.78L260.70 107.82L260.85 107.86L261.00 107.91L261.15 107.95L261.30 107.99L261.45 108.03L261.60 108.08L261.75 108.12L261.90 108.17L262.05 108.22L262.20 108.26L262.35 108.31L262.50 108.36L262.65 108.41L262.80 108.46L262.95 108.51L263.10 108.56L263.25 108.61L263.40 108.67L263.55 108.72L263.70 108.77L263.85 108.82L264.00 108.88L264.15 108.93L264.30 108.98L264.45 109.04L264.60 109.09L264.75 109.14L264.90 109.20L265.05 109.25L265.20 109.31L265.35 109.36L265.50 109.42L265.65 109.47L265.80 109.53L265.95 109.58L266.10 109.63L266.25 109.69L266.40 109.74L266.55 109.80L266.70 109.85L266.85 109.90L267.00 109.96L267.15 110.01L267.30 110.06L267.45 110.12L267.60 110.17L267.75 110.22L267.90 110.27L268.05 110.32L268.20 110.37L268.35 110.42L268.50 110.47L268.65 110.52L268.80 110.57L268.95 110.62L269.10 110.67L269.25 110.72M276.25 112.71L276.40 112.76L276.55 112.80L276.70 112.85L276.85 112.89L277.00 112.94L277.15 112.98L277.30 113.03L277.45 113.08L277.60 113.12L277.75 113.17L277.90 113.22L278.05 113.26L278.20 113.31L278.35 113.36L278.50 113.41L278.65 113.45L278.80 113.50L278.95 113.55L279.10 113.60L279.25 113.65L279.40 113.69L279.55 113.74L279.70 113.79L279.85 113.84L280.00 113.89L280.15 113.93L280.30 113.98L280.45 114.03L280.60 114.08L280.75 114.13L280.90 114.17L281.05 114.22L281.20 114.27L281.35 114.32L281.50 114.36L281.65 114.41L281.80 114.46L281.95 114.50L282.10 114.55L282.25 114.60L282.40 114.64L282.55 114.69L282.70 114.73L282.85 114.78L283.00 114.82L283.15 114.87L283.30 114.91L283.45 114.96L283.60 115.00L283.75 115.04L283.90 115.08L284.05 115.13L284.20 115.17L284.35 115.21L284.50 115.25L284.65 115.29L284.80 115.33L284.95 115.37L285.10 115.41L285.25 115.44L285.40 115.48L285.55 115.52L285.70 115.55L285.85 115.59L285.95 115.61M292.65 116.91L292.80 116.94L292.95 116.97L293.10 117.00L293.25 117.04L293.40 117.07L293.55 117.10L293.70 117.13L293.85 117.17L294.00 117.20L294.15 117.23L294.30 117.27L294.45 117.30L294.60 117.34L294.75 117.37L294.90 117.41L295.05 117.44L295.20 117.48L295.35 117.51L295.50 117.55L295.65 117.58L295.80 117.62L295.95 117.65L296.10 117.69L296.25 117.72L296.40 117.76L296.55 117.80L296.70 117.83L296.85 117.87L297.00 117.90L297.15 117.94L297.30 117.97L297.45 118.01L297.60 118.04L297.75 118.08L297.90 118.11L298.05 118.15L298.20 118.18L298.35 118.22L298.50 118.25L298.65 118.28L298.80 118.32L298.95 118.35L299.10 118.38L299.25 118.42L299.40 118.45L299.55 118.48L299.70 118.51L299.85 118.54L300.00 118.57L300.15 118.60L300.30 118.63L300.45 118.66L300.60 118.69L300.75 118.72L300.90 118.74L301.05 118.77L301.20 118.80L301.35 118.82L301.50 118.85L301.65 118.87L301.80 118.90L301.95 118.92L302.10 118.94L302.25 118.97L302.40 118.99L302.55 119.01M309.35 119.71L309.50 119.73L309.65 119.75L309.80 119.77L309.95 119.79L310.10 119.81L310.25 119.83L310.40 119.86L310.55 119.88L310.70 119.90L310.85 119.93L311.00 119.95L311.15 119.98L311.30 120.00L311.45 120.03L311.60 120.06L311.75 120.08L311.90 120.11L312.05 120.14L312.20 120.16L312.35 120.19L312.50 120.22L312.65 120.25L312.80 120.28L312.95 120.31L313.10 120.33L313.25 120.36L313.40 120.39L313.55 120.42L313.70 120.45L313.85 120.48L314.00 120.51L314.15 120.54L314.30 120.57L314.45 120.60L314.60 120.63L314.75 120.66L314.90 120.69L315.05 120.72L315.20 120.75L315.35 120.78L315.50 120.81L315.65 120.85L315.80 120.88L315.95 120.91L316.10 120.94L316.25 120.97L316.40 120.99L316.55 121.02L316.70 121.05L316.85 121.08L317.00 121.11L317.15 121.14L317.30 121.17L317.45 121.20L317.60 121.23L317.75 121.25L317.90 121.28L318.05 121.31L318.20 121.34L318.35 121.36L318.50 121.39L318.65 121.41L318.80 121.44L318.95 121.47L319.10 121.49L319.25 121.51L319.40 121.54L319.55 121.56L319.70 121.58L319.85 121.61M326.25 122.48L326.40 122.50L326.55 122.52L326.70 122.54L326.85 122.55L327.00 122.57L327.15 122.59L327.30 122.61L327.45 122.62L327.60 122.64L327.75 122.66L327.90 122.67L328.05 122.69L328.20 122.71L328.35 122.73L328.50 122.74L328.65 122.76L328.80 122.77L328.95 122.79L329.10 122.81L329.25 122.82L329.40 122.84L329.55 122.85L329.70 122.87L329.85 122.88L330.00 122.90" stroke="#008b00"/>
<path clip-path="url(#cb)" d="M42.50 283.36L42.70 283.35L42.90 283.35L43.10 283.34L43.30 283.33L43.50 283.32L43.70 283.31L43.90 283.31L44.10 283.30L44.30 283.29L44.50 283.28L44.70 283.27L44.90 283.27L45.10 283.26L45.30 283.25L45.50 283.24L45.70 283.23L45.90 283.22L46.10 283.22L46.30 283.21L46.50 283.20L46.70 283.19L46.90 283.18L47.10 283.17L47.30 283.16L47.50 283.16L47.70 283.15L47.90 283.14L48.10 283.13L48.30 283.12L48.50 283.11L48.70 283.10L48.90 283.09L49.10 283.08L49.30 283.08L49.50 283.07L49.70 283.06L49.90 283.05L50.10 283.04L50.30 283.03L50.50 283.02L50.70 283.01L50.90 283.00L51.10 282.99L51.30 282.98L51.50 282.98L51.70 282.97L51.90 282.96L52.10 282.95L52.30 282.94L52.50 282.93L52.70 282.92L52.90 282.91L53.10 282.90L53.30 282.89L53.50 282.88L53.70 282.87L53.90 282.86L54.10 282.85L54.30 282.84L54.50 282.83L54.70 282.82L54.90 282.81L55.10 282.80L55.30 282.79L55.50 282.78L55.70 282.77L55.90 282.76L56.10 282.75L56.30 282.74L56.50 282.73L56.70 282.72L56.90 282.71L57.10 282.70L57.30 282.69L57.50 282.68L57.70 282.67L57.90 282.66L58.10 282.65L58.30 282.64L58.50 282.63L58.70 282.62L58.90 282.61L59.10 282.60L59.30 282.59L59.50 282.58L59.70 282.57L59.90 282.56L60.10 282.55L60.30 282.54L60.50 282.53L60.70 282.52L60.90 282.51L61.10 282.50L61.30 282.49L61.50 282.48L61.70 282.47L61.90 282.45L62.10 282.44L62.30 282.43L62.50 282.42L62.70 282.41L62.90 282.40L63.10 282.39L63.30 282.38L63.50 282.37L63.70 282.35L63.90 282.34L64.10 282.33L64.30 282.32L64.50 282.31L64.70 282.30L64.90 282.29L65.10 282.27L65.30 282.26L65.50 282.25L65.70 282.24L65.90 282.23L66.10 282.22L66.30 282.20L66.50 282.19L66.70 282.18L66.90 282.17L67.10 282.16L67.30 282.14L67.50 282.13L67.70 282.12L67.90 282.11L68.10 282.10L68.30 282.08L68.50 282.07L68.70 282.06L68.90 282.05L69.10 282.03L69.30 282.02L69.50 282.01L69.70 282.00L69.90 281.99L70.10 281.97L70.30 281.96L70.50 281.95L70.70 281.94L70.90 281.92L71.10 281.91L71.30 281.90L71.50 281.89L71.70 281.87L71.90 281.86L72.10 281.85L72.30 281.84L72.50 281.82L72.70 281.81L72.90 281.80L73.10 281.79L73.30 281.77L73.50 281.76L73.70 281.75L73.90 281.73L74.10 281.72L74.30 281.71L74.50 281.70L74.70 281.68L74.90 281.67L75.10 281.66L75.30 281.65L75.50 281.63L75.70 281.62L75.90 281.61L76.10 281.59L76.30 281.58L76.50 281.57L76.70 281.56L76.90 281.54L77.10 281.53L77.30 281.52L77.50 281.51L77.70 281.49L77.90 281.48L78.10 281.47L78.30 281.46L78.50 281.44L78.70 281.43L78.90 281.42L79.10 281.40L79.30 281.39L79.50 281.38L79.70 281.37L79.90 281.35L80.10 281.34L80.30 281.33L80.50 281.32L80.70 281.30L80.90 281.29L81.10 281.28L81.30 281.27L81.50 281.25L81.70 281.24L81.90 281.23L82.10 281.22L82.30 281.20L82.50 281.19L82.70 281.18L82.90 281.17L83.10 281.15L83.30 281.14L83.50 281.13L83.70 281.12L83.90 281.10L84.10 281.09L84.30 281.08L84.50 281.07L84.70 281.05L84.90 281.04L85.10 281.03L85.30 281.02L85.50 281.00L85.70 280.99L85.90 280.98L86.10 280.97L86.30 280.95L86.50 280.94L86.70 280.93L86.90 280.92L87.10 280.90L87.30 280.89L87.50 280.88L87.70 280.87L87.90 280.85L88.10 280.84L88.30 280.83L88.50 280.81L88.70 280.80L88.90 280.79L89.10 280.78L89.30 280.76L89.50 280.75L89.70 280.74L89.90 280.73L90.10 280.71L90.30 280.70L90.50 280.69L90.70 280.67L90.90 280.66L91.10 280.65L91.30 280.64L91.50 280.62L91.70 280.61L91.90 280.60L92.10 280.58L92.30 280.57L92.50 280.56L92.70 280.54L92.90 280.53L93.10 280.52L93.30 280.50L93.50 280.49L93.70 280.48L93.90 280.46L94.10 280.45L94.30 280.44L94.50 280.42L94.70 280.41L94.90 280.40L95.10 280.38L95.30 280.37L95.50 280.36L95.70 280.34L95.90 280.33L96.10 280.32L96.30 280.30L96.50 280.29L96.70 280.27L96.90 280.26L97.10 280.25L97.30 280.23L97.50 280.22L97.70 280.20L97.90 280.19L98.10 280.18L98.30 280.16L98.50 280.15L98.70 280.13L98.90 280.12L99.10 280.10L99.30 280.09L99.50 280.08L99.70 280.06L99.90 280.05L100.10 280.03L100.30 280.02L100.50 280.00L100.70 279.99L100.90 279.97L101.10 279.96L101.30 279.94L101.50 279.93L101.70 279.92L101.90 279.90L102.10 279.89L102.30 279.87L102.50 279.86L102.70 279.84L102.90 279.83L103.10 279.81L103.30 279.80L103.50 279.78L103.70 279.77L103.90 279.75L104.10 279.74L104.30 279.72L104.50 279.71L104.70 279.69L104.90 279.68L105.10 279.66L105.30 279.65L105.50 279.63L105.70 279.61L105.90 279.60L106.10 279.58L106.30 279.57L106.50 279.55L106.70 279.53L106.90 279.52L107.10 279.50L107.30 279.48L107.50 279.47L107.70 279.45L107.90 279.43L108.10 279.41L108.30 279.40L108.50 279.38L108.70 279.36L108.90 279.34L109.10 279.32L109.30 279.30L109.50 279.28L109.70 279.26L109.90 279.24L110.10 279.22L110.30 279.20L110.50 279.18L110.70 279.16L110.90 279.14L111.10 279.12L111.30 279.10L111.50 279.08L111.70 279.06L111.90 279.03L112.10 279.01L112.30 278.99L112.50 278.97L112.70 278.94L112.90 278.92L113.10 278.90L113.30 278.87L113.50 278.85L113.70 278.82L113.90 278.80L114.10 278.77L114.30 278.75L114.50 278.72L114.70 278.70L114.90 278.67L115.10 278.65L115.30 278.62L115.50 278.60L115.70 278.57L115.90 278.54L116.10 278.52L116.30 278.49L116.50 278.46L116.70 278.43L116.90 278.41L117.10 278.38L117.30 278.35L117.50 278.32L117.70 278.29L117.90 278.26L118.10 278.23L118.30 278.21L118.50 278.18L118.70 278.15L118.90 278.12L119.10 278.09L119.30 278.05L119.50 278.02L119.70 277.99L119.90 277.96L120.10 277.93L120.30 277.90L120.50 277.87L120.70 277.84L120.90 277.80L121.10 277.77L121.30 277.74L121.50 277.71L121.70 277.67L121.90 277.64L122.10 277.61L122.30 277.57L122.50 277.54L122.70 277.50L122.90 277.47L123.10 277.43L123.30 277.39L123.50 277.35L123.70 277.32L123.90 277.28L124.10 277.24L124.30 277.20L124.50 277.16L124.70 277.12L124.90 277.08L125.10 277.03L125.30 276.99L125.50 276.95L125.70 276.91L125.90 276.86L126.10 276.82L126.30 276.78L126.50 276.73L126.70 276.69L126.90 276.64L127.10 276.60L127.30 276.55L127.50 276.50L127.70 276.46L127.90 276.41L128.10 276.37L128.30 276.32L128.50 276.27L128.70 276.22L128.90 276.18L129.10 276.13L129.30 276.08L129.50 276.03L129.70 275.99L129.90 275.94L130.10 275.89L130.30 275.84L130.50 275.79L130.70 275.74L130.90 275.70L131.10 275.65L131.30 275.60L131.50 275.55L131.70 275.50L131.90 275.45L132.10 275.41L132.30 275.36L132.50 275.31L132.70 275.26L132.90 275.21L133.10 275.16L133.30 275.12L133.50 275.07L133.70 275.02L133.90 274.97L134.10 274.93L134.30 274.88L134.50 274.83L134.70 274.79L134.90 274.74L135.10 274.69L135.30 274.65L135.50 274.60L135.70 274.56L135.90 274.51L136.10 274.47L136.30 274.42L136.50 274.37L136.70 274.33L136.90 274.28L137.10 274.24L137.30 274.19L137.50 274.15L137.70 274.10L137.90 274.06L138.10 274.01L138.30 273.97L138.50 273.92L138.70 273.87L138.90 273.83L139.10 273.78L139.30 273.74L139.50 273.69L139.70 273.64L139.90 273.60L140.10 273.55L140.30 273.50L140.50 273.45L140.70 273.41L140.90 273.36L141.10 273.31L141.30 273.26L141.50 273.21L141.70 273.16L141.90 273.12L142.10 273.07L142.30 273.02L142.50 272.96L142.70 272.91L142.90 272.86L143.10 272.81L143.30 272.76L143.50 272.71L143.70 272.65L143.90 272.60L144.10 272.55L144.30 272.49L144.50 272.44L144.70 272.38L144.90 272.32L145.10 272.27L145.30 272.21L145.50 272.15L145.70 272.09L145.90 272.03L146.10 271.97L146.30 271.91L146.50 271.85L146.70 271.79L146.90 271.73L147.10 271.67L147.30 271.60L147.50 271.54L147.70 271.47L147.90 271.41L148.10 271.34L148.30 271.28L148.50 271.21L148.70 271.14L148.90 271.08L149.10 271.01L149.30 270.94L149.50 270.87L149.70 270.80L149.90 270.73L150.10 270.66L150.30 270.58L150.50 270.51L150.70 270.44L150.90 270.36L151.10 270.29L151.30 270.22L151.50 270.14L151.70 270.06L151.90 269.99L152.10 269.91L152.30 269.83L152.50 269.75L152.70 269.67L152.90 269.59L153.10 269.51L153.30 269.43L153.50 269.35L153.70 269.26L153.90 269.18L154.10 269.09L154.30 269.01L154.50 268.92L154.70 268.84L154.90 268.75L155.10 268.66L155.30 268.57L155.50 268.48L155.70 268.39L155.90 268.30L156.10 268.21L156.30 268.12L156.50 268.02L156.70 267.93L156.90 267.84L157.10 267.74L157.30 267.64L157.50 267.55L157.70 267.45L157.90 267.35L158.10 267.25L158.30 267.15L158.50 267.05L158.70 266.95L158.90 266.85L159.10 266.74L159.30 266.64L159.50 266.53L159.70 266.43L159.90 266.32L160.10 266.22L160.30 266.11L160.50 266.00L160.70 265.89L160.90 265.78L161.10 265.67L161.30 265.56L161.50 265.44L161.70 265.33L161.90 265.21L162.10 265.10L162.30 264.98L162.50 264.86L162.70 264.74L162.90 264.62L163.10 264.49L163.30 264.37L163.50 264.25L163.70 264.12L163.90 263.99L164.10 263.86L164.30 263.73L164.50 263.60L164.70 263.47L164.90 263.33L165.10 263.20L165.30 263.06L165.50 262.92L165.70 262.78L165.90 262.64L166.10 262.49L166.30 262.35L166.50 262.20L166.70 262.05L166.90 261.90L167.10 261.75L167.30 261.59L167.50 261.44L167.70 261.28L167.90 261.12L168.10 260.96L168.30 260.79L168.50 260.63L168.70 260.46L168.90 260.29L169.10 260.12L169.30 259.95L169.50 259.77L169.70 259.59L169.90 259.41L170.10 259.23L170.30 259.05L170.50 258.86L170.70 258.67L170.90 258.48L171.10 258.29L171.30 258.09L171.50 257.89L171.70 257.68L171.90 257.47L172.10 257.24L172.30 257.02L172.50 256.79L172.70 256.55L172.90 256.30L173.10 256.05L173.30 255.80L173.50 255.54L173.70 255.27L173.90 255.00L174.10 254.72L174.30 254.44L174.50 254.15L174.70 253.86L174.90 253.57L175.10 253.27L175.30 252.96L175.50 252.65L175.70 252.34L175.90 252.02L176.10 251.70L176.30 251.37L176.50 251.04L176.70 250.71L176.90 250.37L177.10 250.03L177.30 249.69L177.50 249.34L177.70 248.99L177.90 248.64L178.10 248.28L178.30 247.93L178.50 247.56L178.70 247.20L178.90 246.83L179.10 246.46L179.30 246.09L179.50 245.72L179.70 245.33L179.90 244.93L180.10 244.52L180.30 244.10L180.50 243.67L180.70 243.23L180.90 242.78L181.10 242.32L181.30 241.85L181.50 241.38L181.70 240.89L181.90 240.41L182.10 239.91L182.30 239.42L182.50 238.92L182.70 238.41L182.90 237.90L183.10 237.39L183.30 236.88L183.50 236.36L183.70 235.85L183.90 235.33L184.10 234.82L184.30 234.30L184.50 233.79L184.70 233.27L184.90 232.75L185.10 232.22L185.30 231.69L185.50 231.16L185.70 230.61L185.90 230.06L186.10 229.50L186.30 228.92L186.50 228.34L186.70 227.74L186.90 227.13L187.10 226.50L187.30 225.86L187.50 225.20L187.70 224.52L187.90 223.81L188.10 223.07L188.30 222.30L188.50 221.51L188.70 220.70L188.90 219.86L189.10 219.01L189.30 218.14L189.50 217.25L189.70 216.35L189.90 215.44L190.10 214.54L190.30 213.61L190.50 212.64L190.70 211.60L190.90 210.47L191.10 209.20L191.30 207.71L191.50 206.06L191.70 204.33L191.90 202.62L192.10 200.99L192.30 199.36L192.50 197.72L192.70 196.10L192.90 194.52L193.10 192.99L193.30 191.48L193.50 190.01L193.70 188.57L193.90 187.17L194.10 185.82L194.30 184.47L194.50 183.11L194.70 181.78L194.90 180.49L195.10 179.27L195.30 178.13L195.50 177.10L195.70 176.17L195.90 175.22L196.10 174.25L196.30 173.29L196.50 172.37L196.70 171.50L196.90 170.72L197.10 170.04L197.30 169.50L197.50 169.11L197.70 168.90L197.90 168.91L198.10 169.17L198.30 169.66L198.50 170.35L198.70 171.19L198.90 172.16L199.10 173.23L199.30 174.35L199.50 175.49L199.70 176.63L199.90 177.86L200.10 179.29L200.30 180.90L200.50 182.66L200.70 184.53L200.90 186.50L201.10 188.65L201.30 191.08L201.50 193.75L201.70 196.72L201.90 200.04L202.10 203.79L202.30 208.09L202.50 211.26L202.70 213.63L202.90 215.72L203.10 217.91L203.30 220.37L203.50 222.95L203.70 225.58L203.90 228.15L204.10 230.60L204.30 232.82L204.50 234.74L204.70 236.38L204.90 237.89L205.10 239.40L205.30 241.07L205.50 243.07L205.70 245.28L205.90 247.40L206.10 249.13L206.30 250.50L206.50 251.77L206.70 252.91L206.90 253.90L207.10 254.72L207.30 255.39L207.50 256.03L207.70 256.65L207.90 257.25L208.10 257.81L208.30 258.32L208.50 258.78L208.70 259.16L208.90 259.46L209.10 259.67L209.30 259.79L209.50 259.79L209.70 259.73L209.90 259.62L210.10 259.46L210.30 259.26L210.50 259.01L210.70 258.73L210.90 258.41L211.10 258.07L211.30 257.71L211.50 257.32L211.70 256.92L211.90 256.51L212.10 256.10L212.30 255.68L212.50 255.27L212.70 254.86L212.90 254.39L213.10 253.87L213.30 253.31L213.50 252.70L213.70 252.08L213.90 251.43L214.10 250.77L214.30 250.11L214.50 249.45L214.70 248.81L214.90 248.17L215.10 247.55L215.30 246.91L215.50 246.27L215.70 245.62L215.90 244.95L216.10 244.25L216.30 243.51L216.50 242.74L216.70 241.93L216.90 241.07L217.10 240.14L217.30 239.12L217.50 238.03L217.70 236.86L217.90 235.64L218.10 234.36L218.30 233.04L218.50 231.69L218.70 230.30L218.90 228.90L219.10 227.48L219.30 226.06L219.50 224.65L219.70 223.24L219.90 221.86L220.10 220.50L220.30 219.19L220.50 217.91L220.70 216.68L220.90 215.46L221.10 214.26L221.30 213.06L221.50 211.86L221.70 210.64L221.90 209.39L222.10 208.10L222.30 206.74L222.50 205.33L222.70 203.89L222.90 202.43L223.10 200.97L223.30 199.53L223.50 198.12L223.70 196.77L223.90 195.49L224.10 194.30L224.30 193.20L224.50 192.04L224.70 190.85L224.90 189.64L225.10 188.46L225.30 187.33L225.50 186.28L225.70 185.36L225.90 184.58L226.10 183.99L226.30 183.61L226.50 183.48L226.70 183.59L226.90 183.93L227.10 184.46L227.30 185.16L227.50 186.02L227.70 187.01L227.90 188.10L228.10 189.28L228.30 190.52L228.50 191.80L228.70 193.10L228.90 194.44L229.10 196.12L229.30 198.11L229.50 200.36L229.70 202.80L229.90 205.37L230.10 208.00L230.30 210.64L230.50 213.21L230.70 215.65L230.90 217.91L231.10 220.05L231.30 222.17L231.50 224.27L231.70 226.33L231.90 228.35L232.10 230.31L232.30 232.21L232.50 234.02L232.70 235.71L232.90 237.28L233.10 238.81L233.30 240.38L233.50 242.08L233.70 244.04L233.90 246.16L234.10 248.16L234.30 249.82L234.50 251.38L234.70 252.88L234.90 254.33L235.10 255.73L235.30 257.06L235.50 258.33L235.70 259.53L235.90 260.67L236.10 261.73L236.30 262.71L236.50 263.61L236.70 264.43L236.90 265.21L237.10 265.96L237.30 266.67L237.50 267.35L237.70 267.99L237.90 268.60L238.10 269.18L238.30 269.73L238.50 270.24L238.70 270.72L238.90 271.16L239.10 271.58L239.30 271.98L239.50 272.37L239.70 272.75L239.90 273.13L240.10 273.48L240.30 273.83L240.50 274.16L240.70 274.47L240.90 274.77L241.10 275.04L241.30 275.29L241.50 275.51L241.70 275.71L241.90 275.87L242.10 276.01L242.30 276.13L242.50 276.25L242.70 276.36L242.90 276.47L243.10 276.58L243.30 276.69L243.50 276.79L243.70 276.89L243.90 276.98L244.10 277.07L244.30 277.16L244.50 277.25L244.70 277.34L244.90 277.42L245.10 277.50L245.30 277.58L245.50 277.65L245.70 277.73L245.90 277.80L246.10 277.87L246.30 277.93L246.50 278.00L246.70 278.06L246.90 278.12L247.10 278.18L247.30 278.24L247.50 278.30L247.70 278.35L247.90 278.40L248.10 278.45L248.30 278.50L248.50 278.55L248.70 278.60L248.90 278.65L249.10 278.69L249.30 278.74L249.50 278.78L249.70 278.82L249.90 278.87L250.10 278.91L250.30 278.95L250.50 278.99L250.70 279.03L250.90 279.06L251.10 279.10L251.30 279.14L251.50 279.18L251.70 279.21L251.90 279.25L252.10 279.29L252.30 279.32L252.50 279.36L252.70 279.39L252.90 279.43L253.10 279.46L253.30 279.49L253.50 279.52L253.70 279.55L253.90 279.58L254.10 279.61L254.30 279.64L254.50 279.67L254.70 279.70L254.90 279.73L255.10 279.76L255.30 279.78L255.50 279.81L255.70 279.83L255.90 279.86L256.10 279.88L256.30 279.91L256.50 279.93L256.70 279.96L256.90 279.98L257.10 280.01L257.30 280.03L257.50 280.05L257.70 280.07L257.90 280.10L258.10 280.12L258.30 280.14L258.50 280.16L258.70 280.18L258.90 280.21L259.10 280.23L259.30 280.25L259.50 280.27L259.70 280.29L259.90 280.31L260.10 280.34L260.30 280.36L260.50 280.38L260.70 280.40L260.90 280.42L261.10 280.44L261.30 280.47L261.50 280.49L261.70 280.51L261.90 280.53L262.10 280.55L262.30 280.58L262.50 280.60L262.70 280.62L262.90 280.65L263.10 280.67L263.30 280.69L263.50 280.72L263.70 280.74L263.90 280.77L264.10 280.79L264.30 280.81L264.50 280.84L264.70 280.86L264.90 280.89L265.10 280.91L265.30 280.93L265.50 280.96L265.70 280.98L265.90 281.00L266.10 281.03L266.30 281.05L266.50 281.07L266.70 281.09L266.90 281.11L267.10 281.13L267.30 281.15L267.50 281.17L267.70 281.19L267.90 281.21L268.10 281.22L268.30 281.24L268.50 281.26L268.70 281.27L268.90 281.29L269.10 281.30L269.30 281.31L269.50 281.32L269.70 281.33L269.90 281.34L270.10 281.35L270.30 281.36L270.50 281.37L270.70 281.38L270.90 281.39L271.10 281.39L271.30 281.40L271.50 281.41L271.70 281.42L271.90 281.42L272.10 281.43L272.30 281.44L272.50 281.45L272.70 281.45L272.90 281.46L273.10 281.47L273.30 281.47L273.50 281.48L273.70 281.49L273.90 281.49L274.10 281.50L274.30 281.51L274.50 281.51L274.70 281.52L274.90 281.52L275.10 281.53L275.30 281.53L275.50 281.54L275.70 281.55L275.90 281.55L276.10 281.56L276.30 281.56L276.50 281.57L276.70 281.57L276.90 281.58L277.10 281.58L277.30 281.59L277.50 281.59L277.70 281.60L277.90 281.60L278.10 281.60L278.30 281.61L278.50 281.61L278.70 281.62L278.90 281.62L279.10 281.63L279.30 281.63L279.50 281.64L279.70 281.64L279.90 281.64L280.10 281.65L280.30 281.65L280.50 281.66L280.70 281.66L280.90 281.66L281.10 281.67L281.30 281.67L281.50 281.67L281.70 281.68L281.90 281.68L282.10 281.69L282.30 281.69L282.50 281.69L282.70 281.70L282.90 281.70L283.10 281.70L283.30 281.71L283.50 281.71L283.70 281.71L283.90 281.72L284.10 281.72L284.30 281.72L284.50 281.73L284.70 281.73L284.90 281.73L285.10 281.74L285.30 281.74L285.50 281.74L285.70 281.75L285.90 281.75L286.10 281.75L286.30 281.76L286.50 281.76L286.70 281.76L286.90 281.77L287.10 281.77L287.30 281.78L287.50 281.78L287.70 281.78L287.90 281.79L288.10 281.79L288.30 281.79L288.50 281.80L288.70 281.80L288.90 281.80L289.10 281.81L289.30 281.81L289.50 281.81L289.70 281.82L289.90 281.82L290.10 281.82L290.30 281.83L290.50 281.83L290.70 281.83L290.90 281.84L291.10 281.84L291.30 281.85L291.50 281.85L291.70 281.85L291.90 281.86L292.10 281.86L292.30 281.86L292.50 281.87L292.70 281.87L292.90 281.87L293.10 281.88L293.30 281.88L293.50 281.88L293.70 281.89L293.90 281.89L294.10 281.89L294.30 281.90L294.50 281.90L294.70 281.90L294.90 281.91L295.10 281.91L295.30 281.91L295.50 281.92L295.70 281.92L295.90 281.92L296.10 281.93L296.30 281.93L296.50 281.93L296.70 281.93L296.90 281.94L297.10 281.94L297.30 281.94L297.50 281.95L297.70 281.95L297.90 281.95L298.10 281.96L298.30 281.96L298.50 281.96L298.70 281.96L298.90 281.97L299.10 281.97L299.30 281.97L299.50 281.98L299.70 281.98L299.90 281.98L300.10 281.98L300.30 281.99L300.50 281.99L300.70 281.99L300.90 281.99L301.10 282.00L301.30 282.00L301.50 282.00L301.70 282.00L301.90 282.00L302.10 282.01L302.30 282.01L302.50 282.01L302.70 282.01L302.90 282.02L303.10 282.02L303.30 282.02L303.50 282.02L303.70 282.02L303.90 282.02L304.10 282.03L304.30 282.03L304.50 282.03L304.70 282.03L304.90 282.03L305.10 282.03L305.30 282.04L305.50 282.04L305.70 282.04L305.90 282.04L306.10 282.04L306.30 282.04L306.50 282.04L306.70 282.04L306.90 282.05L307.10 282.05L307.30 282.05L307.50 282.05L307.70 282.05L307.90 282.05L308.10 282.05L308.30 282.05L308.50 282.05L308.70 282.05L308.90 282.05L309.10 282.05L309.30 282.05L309.50 282.05L309.70 282.05L309.90 282.05L310.10 282.05L310.30 282.05L310.50 282.05L310.70 282.05L310.90 282.05L311.10 282.05L311.30 282.05L311.50 282.05L311.70 282.05L311.90 282.05L312.10 282.05L312.30 282.05L312.50 282.05L312.70 282.05L312.90 282.05L313.10 282.05L313.30 282.05L313.50 282.05L313.70 282.05L313.90 282.05L314.10 282.05L314.30 282.05L314.50 282.05L314.70 282.05L314.90 282.05L315.10 282.05L315.30 282.05L315.50 282.05L315.70 282.05L315.90 282.05L316.10 282.05L316.30 282.05L316.50 282.05L316.70 282.05L316.90 282.05L317.10 282.05L317.30 282.04L317.50 282.04L317.70 282.04L317.90 282.04L318.10 282.04L318.30 282.04L318.50 282.04L318.70 282.04L318.90 282.04L319.10 282.04L319.30 282.04L319.50 282.04L319.70 282.04L319.90 282.04L320.10 282.03L320.30 282.03L320.50 282.03L320.70 282.03L320.90 282.03L321.10 282.03L321.30 282.03L321.50 282.03L321.70 282.03L321.90 282.03L322.10 282.02L322.30 282.02L322.50 282.02L322.70 282.02L322.90 282.02L323.10 282.02L323.30 282.02L323.50 282.02L323.70 282.01L323.90 282.01L324.10 282.01L324.30 282.01L324.50 282.01L324.70 282.01L324.90 282.01L325.10 282.00L325.30 282.00L325.50 282.00L325.70 282.00L325.90 282.00L326.10 282.00L326.30 281.99L326.50 281.99L326.70 281.99L326.90 281.99L327.10 281.99L327.30 281.98L327.50 281.98L327.70 281.98L327.90 281.98L328.10 281.98L328.30 281.97L328.50 281.97L328.70 281.97L328.90 281.97L329.10 281.96L329.30 281.96L329.50 281.96L329.70 281.96L329.90 281.95" stroke="#0000ff"/>
<path clip-path="url(#cb)" d="M42.50 282.36L42.65 282.36L42.80 282.35L42.95 282.35L43.10 282.35L43.25 282.34L43.40 282.34L43.55 282.33L43.70 282.33L43.85 282.33L44.00 282.32L44.15 282.32L44.30 282.31L44.45 282.31L44.60 282.31L44.75 282.30L44.90 282.30L45.05 282.29L45.20 282.29L45.35 282.29L45.50 282.28L45.65 282.28L45.80 282.28L45.95 282.27L46.10 282.27L46.25 282.27L46.40 282.26L46.55 282.26L46.70 282.26L46.85 282.25L47.00 282.25L47.15 282.24L47.30 282.24L47.45 282.24L47.60 282.23L47.75 282.23L47.90 282.23L48.05 282.23L48.20 282.22L48.35 282.22L48.50 282.22L48.65 282.21L48.80 282.21L48.95 282.21L49.10 282.20L49.25 282.20L49.40 282.20L49.55 282.19L49.70 282.19L49.85 282.19L50.00 282.19L50.15 282.18L50.30 282.18L50.45 282.18L50.60 282.18L50.75 282.17L50.90 282.17L51.05 282.17L51.20 282.17L51.35 282.16L51.50 282.16L51.65 282.16L51.80 282.16L51.95 282.15L52.05 282.15M59.35 282.07L59.50 282.06L59.65 282.06L59.80 282.06L59.95 282.06L60.10 282.05L60.25 282.05L60.40 282.05L60.55 282.05L60.70 282.04L60.85 282.04L61.00 282.04L61.15 282.03L61.30 282.03L61.45 282.02L61.60 282.02L61.75 282.02L61.90 282.01L62.05 282.01L62.20 282.00L62.35 282.00L62.50 281.99L62.65 281.99L62.80 281.98L62.95 281.98L63.10 281.97L63.25 281.97L63.40 281.96L63.55 281.96L63.70 281.95L63.85 281.95L64.00 281.94L64.15 281.93L64.30 281.93L64.45 281.92L64.60 281.92L64.75 281.91L64.90 281.90L65.05 281.90L65.20 281.89L65.35 281.89L65.50 281.88L65.65 281.87L65.80 281.87L65.95 281.86L66.10 281.85L66.25 281.85L66.40 281.84L66.55 281.83L66.70 281.83L66.85 281.82L67.00 281.81L67.15 281.81L67.30 281.80L67.45 281.79L67.60 281.79L67.75 281.78L67.90 281.77L68.05 281.77L68.20 281.76L68.35 281.75L68.50 281.75L68.65 281.74L68.80 281.73L68.95 281.73L69.10 281.72L69.25 281.71L69.40 281.71L69.55 281.70L69.70 281.69L69.85 281.69L70.00 281.68L70.15 281.67M76.15 281.36L76.30 281.35L76.45 281.34L76.60 281.33L76.75 281.32L76.90 281.32L77.05 281.31L77.20 281.30L77.35 281.29L77.50 281.28L77.65 281.27L77.80 281.27L77.95 281.26L78.10 281.25L78.25 281.24L78.40 281.23L78.55 281.22L78.70 281.22L78.85 281.21L79.00 281.20L79.15 281.19L79.30 281.18L79.45 281.18L79.60 281.17L79.75 281.16L79.90 281.15L80.05 281.15L80.20 281.14L80.35 281.13L80.50 281.12L80.65 281.12L80.80 281.11L80.95 281.10L81.10 281.09L81.25 281.09L81.40 281.08L81.55 281.07L81.70 281.06L81.85 281.06L82.00 281.05L82.15 281.04L82.30 281.04L82.45 281.03L82.60 281.02L82.75 281.01L82.90 281.01L83.05 281.00L83.20 280.99L83.35 280.99L83.50 280.98L83.65 280.97L83.80 280.97L83.95 280.96L84.10 280.95L84.25 280.95L84.40 280.94L84.55 280.93L84.70 280.92L84.85 280.92L85.00 280.91L85.15 280.90L85.30 280.90L85.45 280.89L85.60 280.88L85.75 280.88L85.90 280.87L86.05 280.86L86.20 280.86L86.35 280.85L86.50 280.84L86.65 280.84L86.80 280.83L86.95 280.82L87.10 280.82L87.25 280.81L87.40 280.80L87.55 280.79L87.70 280.79L87.75 280.79M93.55 280.49L93.70 280.48L93.85 280.47L94.00 280.46L94.15 280.45L94.30 280.44L94.45 280.43L94.60 280.43L94.75 280.42L94.90 280.41L95.05 280.40L95.20 280.39L95.35 280.38L95.50 280.37L95.65 280.36L95.80 280.35L95.95 280.34L96.10 280.33L96.25 280.32L96.40 280.31L96.55 280.30L96.70 280.29L96.85 280.28L97.00 280.27L97.15 280.26L97.30 280.25L97.45 280.24L97.60 280.23L97.75 280.22L97.90 280.21L98.05 280.20L98.20 280.19L98.35 280.18L98.50 280.17L98.65 280.15L98.80 280.14L98.95 280.13L99.10 280.12L99.25 280.11L99.40 280.10L99.55 280.09L99.70 280.08L99.85 280.07L100.00 280.06L100.15 280.05L100.30 280.03L100.45 280.02L100.60 280.01L100.75 280.00L100.90 279.99L101.05 279.98L101.20 279.97L101.35 279.96L101.50 279.94L101.65 279.93L101.80 279.92L101.95 279.91L102.10 279.90L102.25 279.89L102.40 279.87L102.55 279.86L102.70 279.85L102.85 279.84L103.00 279.83L103.15 279.82L103.30 279.80L103.45 279.79L103.60 279.78L103.75 279.77L103.90 279.76L104.05 279.74L104.20 279.73L104.35 279.72L104.50 279.71L104.65 279.70M111.25 279.10L111.40 279.09L111.55 279.07L111.70 279.06L111.85 279.04L112.00 279.02L112.15 279.01L112.30 278.99L112.45 278.97L112.60 278.95L112.75 278.94L112.90 278.92L113.05 278.90L113.20 278.88L113.35 278.87L113.50 278.85L113.65 278.83L113.80 278.81L113.95 278.79L114.10 278.78L114.25 278.76L114.40 278.74L114.55 278.72L114.70 278.70L114.85 278.68L115.00 278.66L115.15 278.64L115.30 278.62L115.45 278.60L115.60 278.58L115.75 278.56L115.90 278.54L116.05 278.52L116.20 278.50L116.35 278.48L116.50 278.46L116.65 278.44L116.80 278.42L116.95 278.40L117.10 278.38L117.25 278.36L117.40 278.34L117.55 278.31L117.70 278.29L117.85 278.27L118.00 278.25L118.15 278.23L118.30 278.21L118.45 278.18L118.60 278.16L118.75 278.14L118.90 278.12L119.05 278.09L119.20 278.07L119.35 278.05L119.50 278.02L119.65 278.00L119.80 277.98L119.95 277.95L120.10 277.93L120.25 277.91L120.40 277.88L120.55 277.86L120.70 277.84L120.85 277.81L121.00 277.79L121.15 277.76L121.30 277.74L121.45 277.71L121.60 277.69L121.75 277.66L121.90 277.64L122.05 277.61L122.15 277.60M127.55 276.49L127.70 276.46L127.85 276.43L128.00 276.40L128.15 276.36L128.30 276.33L128.45 276.30L128.60 276.26L128.75 276.23L128.90 276.20L129.05 276.16L129.20 276.13L129.35 276.09L129.50 276.06L129.65 276.03L129.80 275.99L129.95 275.96L130.10 275.92L130.25 275.89L130.40 275.86L130.55 275.82L130.70 275.79L130.85 275.75L131.00 275.72L131.15 275.68L131.30 275.65L131.45 275.61L131.60 275.58L131.75 275.54L131.90 275.51L132.05 275.47L132.20 275.44L132.35 275.40L132.50 275.36L132.65 275.33L132.80 275.29L132.95 275.26L133.10 275.22L133.25 275.19L133.40 275.15L133.55 275.11L133.70 275.08L133.85 275.04L134.00 275.01L134.15 274.97L134.30 274.93L134.45 274.90L134.60 274.86L134.75 274.83L134.90 274.79L135.05 274.75L135.20 274.72L135.35 274.68L135.50 274.64L135.65 274.61L135.80 274.57L135.95 274.53L136.10 274.50L136.25 274.46L136.40 274.43L136.55 274.39L136.70 274.35L136.85 274.32L137.00 274.28L137.15 274.24L137.30 274.21L137.45 274.17L137.60 274.13L137.75 274.10L137.90 274.06L138.05 274.03L138.20 273.99L138.35 273.95M144.75 272.37L144.90 272.32L145.05 272.28L145.20 272.23L145.35 272.19L145.50 272.15L145.65 272.10L145.80 272.06L145.95 272.01L146.10 271.96L146.25 271.92L146.40 271.87L146.55 271.82L146.70 271.78L146.85 271.73L147.00 271.68L147.15 271.63L147.30 271.58L147.45 271.53L147.60 271.48L147.75 271.43L147.90 271.38L148.05 271.33L148.20 271.28L148.35 271.23L148.50 271.18L148.65 271.13L148.80 271.08L148.95 271.03L149.10 270.97L149.25 270.92L149.40 270.87L149.55 270.82L149.70 270.76L149.85 270.71L150.00 270.66L150.15 270.60L150.30 270.55L150.45 270.49L150.60 270.44L150.75 270.38L150.90 270.33L151.05 270.27L151.20 270.22L151.35 270.16L151.50 270.11L151.65 270.05L151.80 269.99L151.95 269.94L152.10 269.88L152.25 269.82L152.40 269.76L152.55 269.71L152.70 269.65L152.85 269.59L153.00 269.53L153.15 269.48L153.30 269.42L153.45 269.36L153.60 269.30L153.75 269.24M158.25 267.28L158.40 267.20L158.55 267.13L158.70 267.05L158.85 266.98L159.00 266.90L159.15 266.82L159.30 266.75L159.45 266.67L159.60 266.59L159.75 266.51L159.90 266.43L160.05 266.36L160.20 266.28L160.35 266.20L160.50 266.11L160.65 266.03L160.80 265.95L160.95 265.87L161.10 265.79L161.25 265.70L161.40 265.62L161.55 265.54L161.70 265.45L161.85 265.37L162.00 265.28L162.15 265.20L162.30 265.11L162.45 265.03L162.60 264.94L162.75 264.85L162.90 264.76L163.05 264.68L163.20 264.59L163.35 264.50L163.50 264.41L163.65 264.32L163.80 264.23L163.95 264.14L164.10 264.05L164.25 263.95L164.40 263.86L164.55 263.77L164.70 263.68L164.85 263.58L165.00 263.49L165.15 263.39L165.30 263.30L165.45 263.20L165.60 263.11L165.75 263.01L165.90 262.91L166.05 262.82L166.20 262.72L166.35 262.62L166.50 262.52L166.65 262.42L166.80 262.32L166.95 262.22L167.10 262.12L167.25 262.02L167.40 261.92L167.55 261.82L167.70 261.72L167.85 261.62L168.00 261.51L168.15 261.41L168.25 261.34M173.35 257.25L173.50 257.10L173.65 256.94L173.80 256.78L173.95 256.62L174.10 256.45L174.25 256.28L174.40 256.11L174.55 255.94L174.70 255.76L174.85 255.58L175.00 255.39L175.15 255.21L175.30 255.02L175.45 254.83L175.60 254.63L175.75 254.43L175.90 254.24L176.05 254.03L176.20 253.83L176.35 253.63L176.50 253.42L176.65 253.21L176.80 253.00L176.95 252.79L177.10 252.57L177.25 252.36L177.40 252.14L177.55 251.93L177.70 251.71L177.85 251.49L178.00 251.27L178.15 251.05L178.30 250.82L178.45 250.60L178.60 250.38L178.75 250.15L178.90 249.93L179.05 249.70L179.20 249.48L179.35 249.25L179.50 249.03L179.65 248.80L179.80 248.58L179.95 248.35L180.10 248.13L180.25 247.90L180.40 247.68L180.55 247.46L180.70 247.23L180.85 247.01L181.00 246.79L181.15 246.57L181.25 246.43M184.20 241.90L184.35 241.59L184.50 241.27L184.65 240.92L184.80 240.57L184.95 240.19L185.10 239.81L185.25 239.41L185.40 239.00L185.55 238.57L185.70 238.14L185.85 237.69L186.00 237.24L186.15 236.77L186.30 236.30L186.45 235.82L186.60 235.33L186.75 234.83L186.90 234.33L187.05 233.83L187.20 233.32L187.35 232.81L187.50 232.29L187.65 231.77L187.70 231.60M189.20 225.60L189.35 224.92L189.50 224.22L189.65 223.51L189.80 222.78L189.95 222.04L190.10 221.28L190.25 220.50L190.40 219.71L190.55 218.90L190.70 218.07L190.85 217.23L191.00 216.37L191.15 215.50L191.20 215.20M192.20 208.50L192.35 207.16L192.50 205.67L192.65 204.05L192.80 202.31L192.95 200.49L193.10 198.59L193.20 197.30M193.70 189.80L193.85 188.40L194.00 187.21L194.15 186.17L194.30 185.24L194.45 184.37L194.60 183.53L194.75 182.65L194.90 181.70L195.05 180.64L195.20 179.40M195.60 175.00L195.75 173.99L195.90 173.11L196.05 172.34L196.20 171.66L196.35 171.05L196.50 170.50L196.65 169.94L196.80 169.38L196.95 168.85L197.10 168.41L197.25 168.11L197.40 168.00L197.55 168.10L197.70 168.39L197.85 168.80L198.00 169.29L198.15 169.82L198.30 170.36L198.45 170.96L198.60 171.71L198.75 172.69L198.90 174.00M199.20 180.90L199.35 182.84L199.50 184.42L199.65 185.72L199.80 186.87L199.95 187.97L200.10 189.12L200.25 190.43L200.40 192.00M200.90 199.20L201.05 200.79L201.20 202.16L201.35 203.37L201.50 204.51L201.65 205.65L201.80 206.86L201.95 208.22L202.10 209.79L202.20 211.00M202.60 218.20L202.75 219.76L202.90 221.16L203.05 222.42L203.20 223.56L203.35 224.59L203.50 225.52L203.65 226.37L203.80 227.16L203.95 227.90L204.10 228.60M205.60 233.80L205.75 234.21L205.90 234.61L206.05 235.01L206.20 235.39L206.35 235.77L206.50 236.13L206.65 236.48L206.80 236.80L206.95 237.11L207.10 237.39L207.25 237.64L207.40 237.87L207.55 238.06L207.70 238.24L207.85 238.42L208.00 238.59L208.15 238.75L208.30 238.91L208.45 239.06L208.60 239.20L208.75 239.34L208.90 239.47L209.05 239.59L209.20 239.71L209.35 239.82L209.50 239.93L209.65 240.03L209.80 240.13L209.95 240.22L210.10 240.30L210.25 240.38L210.40 240.45L210.50 240.50M215.30 236.00L215.45 235.65L215.60 235.30L215.75 234.96L215.90 234.62L216.05 234.28L216.20 233.93L216.35 233.57L216.50 233.19L216.65 232.80L216.80 232.39L216.95 231.96L217.10 231.49L217.25 231.00L217.40 230.47L217.55 229.91L217.70 229.30L217.85 228.65L218.00 227.95L218.15 227.20L218.30 226.40M219.00 218.90L219.15 217.76L219.30 216.80L219.45 215.96L219.60 215.20L219.75 214.45L219.90 213.68L220.05 212.82L220.20 211.82L220.35 210.63L220.50 209.20M220.90 202.00L221.05 200.12L221.20 198.66L221.35 197.28L221.50 195.63L221.65 193.36L221.70 192.40M221.90 184.90L222.05 183.76L222.20 182.86L222.35 182.18L222.50 181.65L222.65 181.24L222.80 180.90L222.95 180.59L223.10 180.26L223.25 179.86L223.40 179.42L223.55 178.97L223.70 178.56L223.85 178.20L224.00 177.94L224.15 177.81L224.30 177.83L224.45 177.99L224.60 178.27L224.75 178.67L224.90 179.17L225.05 179.77L225.20 180.46L225.35 181.23L225.40 181.50M225.90 188.40L226.05 189.91L226.20 191.20L226.35 192.35L226.50 193.44L226.65 194.55L226.80 195.76L226.95 197.15L227.10 198.80M227.50 205.50L227.65 207.19L227.80 208.68L227.95 210.01L228.10 211.23L228.25 212.39L228.40 213.52L228.55 214.67L228.70 215.90M229.50 222.60L229.65 223.45L229.80 224.24L229.95 224.97L230.10 225.66L230.25 226.31L230.40 226.93L230.55 227.52L230.70 228.08L230.85 228.63L231.00 229.17L231.15 229.70L231.30 230.23L231.45 230.77L231.60 231.33L231.75 231.90L231.90 232.50M233.60 239.40L233.75 239.95L233.90 240.49L234.05 241.04L234.20 241.58L234.35 242.12L234.50 242.66L234.65 243.19L234.80 243.71L234.95 244.23L235.10 244.74L235.25 245.24L235.40 245.72L235.55 246.20L235.70 246.66L235.85 247.11L236.00 247.54L236.15 247.96L236.30 248.36L236.45 248.74L236.60 249.10M239.90 255.10L240.05 255.34L240.20 255.57L240.35 255.81L240.50 256.04L240.65 256.27L240.80 256.50L240.95 256.73L241.10 256.96L241.25 257.18L241.40 257.40L241.55 257.61L241.70 257.82L241.85 258.03L242.00 258.24L242.15 258.44L242.30 258.64L242.45 258.83L242.60 259.02L242.75 259.20L242.90 259.38L243.05 259.56L243.20 259.73L243.35 259.90L243.50 260.07L243.65 260.24L243.80 260.40L243.95 260.56L244.10 260.72L244.25 260.88L244.40 261.03L244.55 261.19L244.70 261.34L244.85 261.49L245.00 261.63L245.15 261.77L245.30 261.91L245.45 262.05L245.60 262.18L245.75 262.32L245.90 262.44L246.05 262.57L246.20 262.69L246.35 262.81L246.50 262.92L246.60 263.00M252.65 266.53L252.80 266.60L252.95 266.68L253.10 266.76L253.25 266.84L253.40 266.91L253.55 266.99L253.70 267.07L253.85 267.15L254.00 267.22L254.15 267.30L254.30 267.37L254.45 267.45L254.60 267.53L254.75 267.60L254.90 267.68L255.05 267.75L255.20 267.83L255.35 267.90L255.50 267.97L255.65 268.05L255.80 268.12L255.95 268.20L256.10 268.27L256.25 268.34L256.40 268.41L256.55 268.49L256.70 268.56L256.85 268.63L257.00 268.70L257.15 268.77L257.30 268.84L257.45 268.91L257.60 268.98L257.75 269.05L257.90 269.12L258.05 269.19L258.20 269.26L258.35 269.33L258.50 269.40L258.65 269.47L258.80 269.53L258.95 269.60L259.10 269.67L259.25 269.73L259.40 269.80L259.55 269.87L259.70 269.93L259.85 270.00L260.00 270.06L260.15 270.12L260.30 270.19L260.45 270.25L260.60 270.31L260.75 270.38L260.90 270.44L261.05 270.50L261.20 270.56L261.35 270.62L261.50 270.68L261.65 270.74L261.80 270.80L261.95 270.86L262.10 270.92L262.25 270.98L262.35 271.02M269.35 273.30L269.50 273.34L269.65 273.38L269.80 273.41L269.95 273.45L270.10 273.49L270.25 273.52L270.40 273.56L270.55 273.60L270.70 273.63L270.85 273.67L271.00 273.70L271.15 273.74L271.30 273.77L271.45 273.81L271.60 273.84L271.75 273.88L271.90 273.91L272.05 273.95L272.20 273.98L272.35 274.01L272.50 274.05L272.65 274.08L272.80 274.11L272.95 274.14L273.10 274.18L273.25 274.21L273.40 274.24L273.55 274.27L273.70 274.30L273.85 274.34L274.00 274.37L274.15 274.40L274.30 274.43L274.45 274.46L274.60 274.49L274.75 274.52L274.90 274.55L275.05 274.58L275.20 274.61L275.35 274.64L275.50 274.67L275.65 274.70L275.80 274.73L275.95 274.76L276.10 274.79L276.25 274.81L276.40 274.84L276.55 274.87L276.70 274.90L276.85 274.93L277.00 274.95L277.15 274.98L277.30 275.01L277.45 275.04L277.60 275.07L277.75 275.09L277.90 275.12L278.05 275.15L278.20 275.17L278.35 275.20L278.50 275.23L278.65 275.25L278.80 275.28L278.95 275.30L279.10 275.33L279.25 275.36L279.40 275.38L279.55 275.41L279.70 275.43L279.85 275.46L280.00 275.48L280.15 275.51L280.30 275.54L280.45 275.56L280.55 275.58M286.05 276.38L286.20 276.40L286.35 276.42L286.50 276.44L286.65 276.46L286.80 276.48L286.95 276.49L287.10 276.51L287.25 276.53L287.40 276.55L287.55 276.56L287.70 276.58L287.85 276.60L288.00 276.62L288.15 276.63L288.30 276.65L288.45 276.67L288.60 276.68L288.75 276.70L288.90 276.72L289.05 276.73L289.20 276.75L289.35 276.77L289.50 276.78L289.65 276.80L289.80 276.82L289.95 276.83L290.10 276.85L290.25 276.87L290.40 276.88L290.55 276.90L290.70 276.91L290.85 276.93L291.00 276.94L291.15 276.96L291.30 276.97L291.45 276.99L291.60 277.01L291.75 277.02L291.90 277.04L292.05 277.05L292.20 277.07L292.35 277.08L292.50 277.10L292.65 277.11L292.80 277.12L292.95 277.14L293.10 277.15L293.25 277.17L293.40 277.18L293.55 277.20L293.70 277.21L293.85 277.23L294.00 277.24L294.15 277.25L294.30 277.27L294.45 277.28L294.60 277.29L294.75 277.31L294.90 277.32L295.05 277.34L295.20 277.35L295.35 277.36L295.50 277.38L295.65 277.39L295.80 277.40L295.95 277.42L296.10 277.43L296.25 277.44L296.40 277.45L296.55 277.47L296.70 277.48L296.85 277.49L297.00 277.51L297.15 277.52L297.25 277.53M303.15 278.00L303.30 278.02L303.45 278.03L303.60 278.04L303.75 278.05L303.90 278.06L304.05 278.07L304.20 278.09L304.35 278.10L304.50 278.11L304.65 278.12L304.80 278.13L304.95 278.14L305.10 278.16L305.25 278.17L305.40 278.18L305.55 278.19L305.70 278.20L305.85 278.21L306.00 278.22L306.15 278.23L306.30 278.24L306.45 278.25L306.60 278.26L306.75 278.27L306.90 278.28L307.05 278.29L307.20 278.30L307.35 278.31L307.50 278.32L307.65 278.33L307.80 278.34L307.95 278.35L308.10 278.36L308.25 278.37L308.40 278.37L308.55 278.38L308.70 278.39L308.85 278.40L309.00 278.40L309.15 278.41L309.30 278.42L309.45 278.43L309.60 278.43L309.75 278.44L309.90 278.45L310.05 278.45L310.20 278.46L310.35 278.46L310.50 278.47L310.65 278.47L310.80 278.48L310.95 278.48L311.10 278.49L311.25 278.49L311.40 278.49L311.55 278.50L311.70 278.50L311.85 278.50L312.00 278.51L312.15 278.51L312.30 278.51L312.45 278.51L312.60 278.52L312.75 278.52L312.90 278.52L313.05 278.53L313.20 278.53L313.35 278.53L313.50 278.53L313.65 278.54L313.80 278.54L313.95 278.54L314.10 278.54L314.25 278.55M319.95 278.63L320.10 278.64L320.25 278.64L320.40 278.64L320.55 278.64L320.70 278.64L320.85 278.64L321.00 278.65L321.15 278.65L321.30 278.65L321.45 278.65L321.60 278.65L321.75 278.65L321.90 278.66L322.05 278.66L322.20 278.66L322.35 278.66L322.50 278.66L322.65 278.66L322.80 278.67L322.95 278.67L323.10 278.67L323.25 278.67L323.40 278.67L323.55 278.67L323.70 278.67L323.85 278.67L324.00 278.68L324.15 278.68L324.30 278.68L324.45 278.68L324.60 278.68L324.75 278.68L324.90 278.68L325.05 278.68L325.20 278.68L325.35 278.69L325.50 278.69L325.65 278.69L325.80 278.69L325.95 278.69L326.10 278.69L326.25 278.69L326.40 278.69L326.55 278.69L326.70 278.69L326.85 278.69L327.00 278.69L327.15 278.69L327.30 278.69L327.45 278.70L327.60 278.70L327.75 278.70L327.90 278.70L328.05 278.70L328.20 278.70L328.35 278.70L328.50 278.70L328.65 278.70L328.80 278.70L328.95 278.70L329.10 278.70L329.25 278.70L329.40 278.70L329.55 278.70L329.70 278.70L329.85 278.70L330.00 278.70" stroke="#ff0000"/>
<path d="M65 20.4H94.1" stroke="#0000ff"/><path d="M65 37.4H75.8M82.4 37.4H93.6" stroke="#008b00"/>
<path d="M65 162.7H94.2" stroke="#0000ff"/><path d="M65 176.6H75.4M82.5 176.6H93.8" stroke="#ff0000"/>
</g>
<path d="M42.5 0V289M330.0 0V289M42 0H330.5M42 144.5H330.5M42 288.5H330.5" stroke="#000" stroke-width="0.8" fill="none"/>
<text transform="translate(39.60 149.20) rotate(0.03) scale(0.9174 1)" font-size="13.95" text-anchor="end">0</text>
<text transform="translate(39.60 123.18) rotate(0.03) scale(0.9174 1)" font-size="13.95" text-anchor="end">0.2</text>
<text transform="translate(39.60 267.40) rotate(0.03) scale(0.9174 1)" font-size="13.95" text-anchor="end">0.2</text>
<text transform="translate(39.60 97.16) rotate(0.03) scale(0.9174 1)" font-size="13.95" text-anchor="end">0.4</text>
<text transform="translate(39.60 241.20) rotate(0.03) scale(0.9174 1)" font-size="13.95" text-anchor="end">0.4</text>
<text transform="translate(39.60 71.14) rotate(0.03) scale(0.9174 1)" font-size="13.95" text-anchor="end">0.6</text>
<text transform="translate(39.60 215.00) rotate(0.03) scale(0.9174 1)" font-size="13.95" text-anchor="end">0.6</text>
<text transform="translate(39.60 45.12) rotate(0.03) scale(0.9174 1)" font-size="13.95" text-anchor="end">0.8</text>
<text transform="translate(39.60 188.80) rotate(0.03) scale(0.9174 1)" font-size="13.95" text-anchor="end">0.8</text>
<text transform="translate(39.60 19.10) rotate(0.03) scale(0.9174 1)" font-size="13.95" text-anchor="end">1</text>
<text transform="translate(39.60 162.60) rotate(0.03) scale(0.9174 1)" font-size="13.95" text-anchor="end">1</text>
<text transform="translate(56.29 300.90) rotate(0.03) scale(0.9174 1)" font-size="13.95" text-anchor="middle">1.8</text>
<text transform="translate(111.05 300.90) rotate(0.03) scale(0.9174 1)" font-size="13.95" text-anchor="middle">2</text>
<text transform="translate(165.81 300.90) rotate(0.03) scale(0.9174 1)" font-size="13.95" text-anchor="middle">2.2</text>
<text transform="translate(220.58 300.90) rotate(0.03) scale(0.9174 1)" font-size="13.95" text-anchor="middle">2.4</text>
<text transform="translate(275.34 300.90) rotate(0.03) scale(0.9174 1)" font-size="13.95" text-anchor="middle">2.6</text>
<text transform="translate(186.50 318.60) rotate(0.03) scale(0.9615 1)" font-size="13.05" text-anchor="middle">Energy (eV)</text>
<text transform="translate(10.40 107.00) rotate(-90.03) scale(0.9615 1)" font-size="13.05" text-anchor="start">Intensity (arb. units)</text>
<text transform="translate(10.40 291.80) rotate(-90.03) scale(0.9615 1)" font-size="13.05" text-anchor="start">Rayleigh intensity (arb. units)</text>
<text transform="translate(101.30 24.20) rotate(0.03) scale(0.9615 1)" font-size="15.44" text-anchor="start">Rayleigh</text>
<text transform="translate(101.30 41.40) rotate(0.03) scale(0.9615 1)" font-size="15.44" text-anchor="start">absorption</text>
<text transform="translate(101.30 167.50) rotate(0.03) scale(0.9615 1)" font-size="15.44" text-anchor="start">exciton</text>
<text transform="translate(101.30 181.50) rotate(0.03) scale(0.9615 1)" font-size="15.44" text-anchor="start">electron</text>
<text transform="translate(303.80 26.80) rotate(0.03) scale(0.9615 1)" font-size="15.44" text-anchor="start">a)</text>
<text transform="translate(303.30 171.20) rotate(0.03) scale(0.9615 1)" font-size="15.44" text-anchor="start">b)</text>
<text transform="translate(186.70 16.60) rotate(0.03) scale(0.9615 1)" font-size="14.87" text-anchor="start">M</text>
<text transform="translate(199.90 22.70) rotate(0.03) scale(0.9615 1)" font-size="10.82" text-anchor="start">22</text>
<text transform="translate(201.80 8.00) rotate(0.03) scale(0.9615 1)" font-size="10.82" text-anchor="start">-</text>
<text transform="translate(236.80 40.90) rotate(0.03) scale(0.9615 1)" font-size="14.87" text-anchor="start">M</text>
<text transform="translate(250.00 46.90) rotate(0.03) scale(0.9615 1)" font-size="10.82" text-anchor="start">22</text>
<text transform="translate(251.60 32.60) rotate(0.03) scale(0.9615 1)" font-size="10.82" text-anchor="start">+</text>
</svg></body></html>
